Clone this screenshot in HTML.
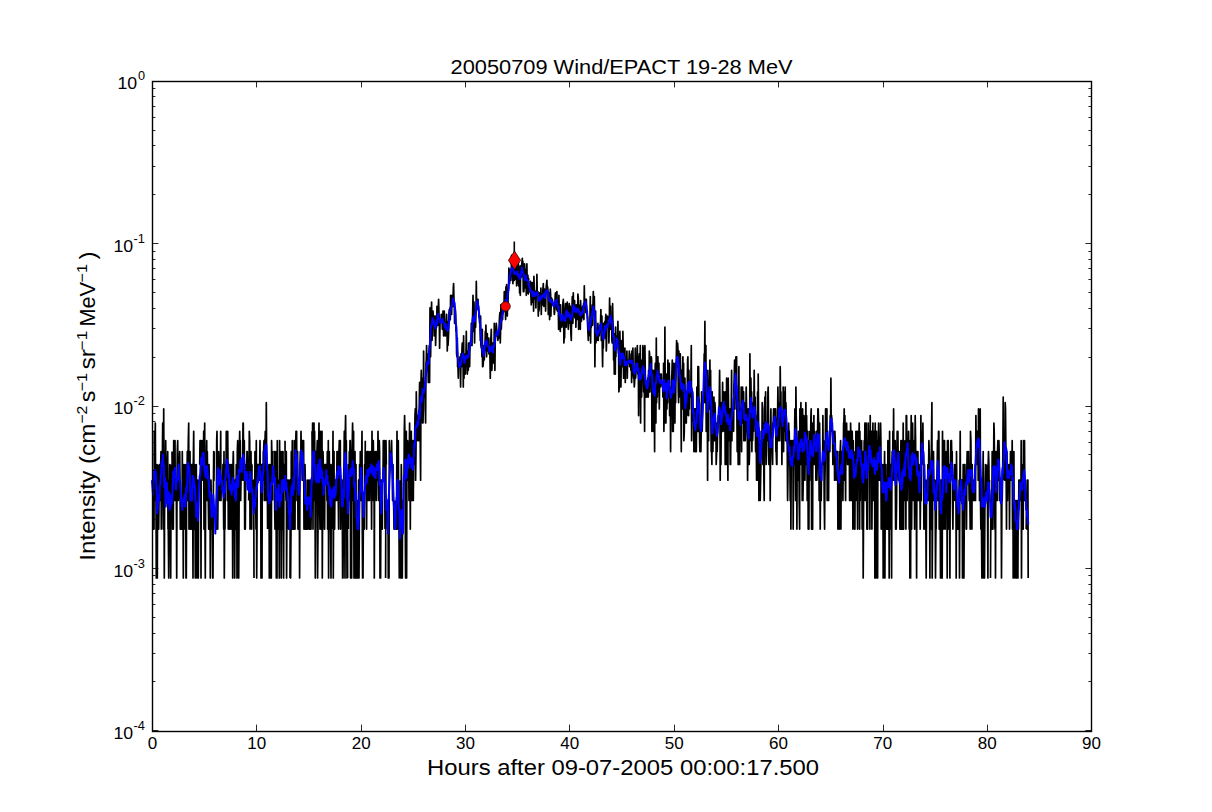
<!DOCTYPE html><html><head><meta charset="utf-8"><style>html,body{margin:0;padding:0;background:#fff;width:1212px;height:812px;overflow:hidden}</style></head><body><svg width="1212" height="812" viewBox="0 0 1212 812" style="position:absolute;left:0;top:0"><rect width="1212" height="812" fill="#ffffff"/><path d="M152.0 480.2L152.3 480.2L152.7 480.2L153.0 480.2L153.3 529.1L153.7 529.1L154.0 529.1L154.3 431.3L154.7 451.6L155.0 480.2L155.3 423.0L155.7 500.5L156.0 500.5L156.3 578.0L156.7 529.1L157.0 464.5L157.3 578.0L157.7 464.5M158.3 464.5L158.7 529.1L159.0 500.5L159.3 500.5L159.7 464.5L160.0 500.5L160.3 500.5L160.7 464.5L161.0 451.6L161.3 529.1L161.7 451.6L162.0 464.5L162.3 464.5L162.7 423.0L163.0 480.2L163.3 529.1L163.7 408.9L164.0 480.2L164.3 578.0L164.7 480.2M165.3 500.5L165.7 440.7L166.0 500.5L166.3 480.2M167.0 500.5L167.3 464.5L167.7 451.6L168.0 529.1L168.3 529.1L168.7 578.0L169.0 480.2L169.3 529.1L169.7 464.5L170.0 480.2L170.3 529.1L170.7 578.0L171.0 500.5L171.3 464.5M172.0 451.6L172.3 480.2L172.7 529.1L173.0 500.5L173.3 529.1L173.7 440.7L174.0 440.7L174.3 464.5L174.7 500.5L175.0 440.7L175.3 500.5L175.7 500.5L176.0 500.5L176.3 480.2L176.7 578.0L177.0 480.2L177.3 451.6L177.7 440.7L178.0 480.2L178.3 500.5L178.7 480.2L179.0 464.5L179.3 464.5L179.7 451.6L180.0 480.2L180.3 529.1L180.7 500.5L181.0 500.5L181.3 529.1L181.7 529.1L182.0 529.1L182.3 451.6L182.7 529.1L183.0 500.5L183.3 578.0L183.7 464.5L184.0 500.5L184.3 529.1L184.7 500.5L185.0 464.5L185.3 500.5L185.7 480.2L186.0 578.0L186.3 578.0L186.7 464.5L187.0 480.2L187.3 451.6L187.7 500.5L188.0 464.5L188.3 440.7L188.7 423.0L189.0 529.1L189.3 480.2L189.7 500.5L190.0 451.6L190.3 529.1L190.7 529.1L191.0 500.5L191.3 529.1L191.7 464.5L192.0 500.5L192.3 464.5L192.7 500.5L193.0 578.0L193.3 464.5L193.7 431.3L194.0 480.2L194.3 529.1L194.7 464.5L195.0 500.5L195.3 578.0L195.7 529.1L196.0 500.5L196.3 464.5L196.7 529.1L197.0 578.0L197.3 529.1L197.7 480.2L198.0 480.2L198.3 578.0L198.7 480.2M199.3 464.5L199.7 464.5L200.0 440.7L200.3 464.5L200.7 440.7L201.0 578.0L201.3 451.6L201.7 480.2L202.0 440.7L202.3 440.7L202.7 464.5L203.0 451.6L203.3 480.2L203.7 431.3L204.0 529.1L204.3 451.6L204.7 423.0L205.0 529.1L205.3 578.0L205.7 480.2L206.0 464.5L206.3 464.5L206.7 440.7L207.0 500.5L207.3 451.6L207.7 480.2L208.0 464.5L208.3 500.5L208.7 529.1L209.0 464.5L209.3 480.2L209.7 500.5L210.0 480.2L210.3 578.0L210.7 500.5L211.0 480.2L211.3 500.5L211.7 529.1L212.0 529.1L212.3 500.5L212.7 578.0L213.0 578.0L213.3 500.5L213.7 451.6L214.0 480.2L214.3 451.6M216.0 529.1L216.3 529.1L216.7 440.7L217.0 431.3L217.3 480.2L217.7 529.1L218.0 500.5L218.3 480.2L218.7 451.6L219.0 480.2L219.3 480.2L219.7 500.5L220.0 480.2L220.3 480.2L220.7 431.3L221.0 500.5L221.3 480.2L221.7 480.2L222.0 480.2M222.7 480.2L223.0 464.5L223.3 480.2L223.7 529.1L224.0 451.6L224.3 578.0L224.7 500.5L225.0 529.1L225.3 464.5L225.7 480.2L226.0 480.2L226.3 431.3L226.7 451.6L227.0 464.5L227.3 500.5L227.7 431.3L228.0 464.5L228.3 529.1L228.7 480.2L229.0 480.2L229.3 464.5L229.7 529.1L230.0 464.5L230.3 500.5L230.7 500.5L231.0 529.1L231.3 464.5L231.7 480.2L232.0 500.5L232.3 464.5L232.7 578.0L233.0 464.5L233.3 451.6L233.7 480.2L234.0 480.2L234.3 480.2L234.7 578.0L235.0 500.5L235.3 480.2L235.7 529.1L236.0 500.5L236.3 464.5L236.7 464.5L237.0 578.0L237.3 451.6L237.7 440.7L238.0 480.2L238.3 500.5L238.7 578.0L239.0 529.1L239.3 451.6L239.7 431.3L240.0 451.6L240.3 440.7L240.7 500.5L241.0 480.2L241.3 464.5L241.7 480.2L242.0 480.2L242.3 480.2L242.7 464.5L243.0 423.0L243.3 423.0L243.7 480.2L244.0 480.2L244.3 440.7L244.7 529.1L245.0 480.2L245.3 529.1L245.7 480.2L246.0 464.5L246.3 480.2L246.7 464.5L247.0 451.6L247.3 451.6L247.7 480.2M248.7 500.5L249.0 480.2L249.3 431.3L249.7 440.7L250.0 529.1L250.3 500.5L250.7 500.5L251.0 451.6L251.3 500.5L251.7 529.1L252.0 464.5L252.3 464.5M253.0 480.2L253.3 500.5L253.7 480.2L254.0 578.0M254.7 500.5L255.0 451.6L255.3 500.5L255.7 500.5L256.0 529.1L256.3 440.7L256.7 578.0L257.0 529.1L257.3 464.5L257.7 464.5L258.0 480.2L258.3 464.5L258.7 480.2L259.0 464.5L259.3 480.2L259.7 464.5L260.0 440.7L260.3 480.2L260.7 464.5L261.0 578.0L261.3 464.5L261.6 529.1L262.0 578.0L262.3 464.5L262.6 480.2L263.0 480.2L263.3 451.6L263.6 451.6L264.0 440.7L264.3 500.5L264.6 480.2L265.0 440.7L265.3 431.3L265.6 431.3L266.0 500.5L266.3 402.7L266.6 451.6L267.0 464.5L267.3 480.2L267.6 529.1M268.3 464.5L268.6 500.5L269.0 464.5L269.3 578.0L269.6 464.5L270.0 500.5L270.3 578.0L270.6 500.5L271.0 464.5L271.3 578.0L271.6 440.7L272.0 464.5L272.3 451.6L272.6 500.5M273.3 451.6L273.6 451.6L274.0 451.6L274.3 451.6L274.6 500.5L275.0 529.1L275.3 529.1L275.6 529.1L276.0 451.6L276.3 578.0L276.6 480.2L277.0 578.0L277.3 440.7L277.6 500.5L278.0 480.2L278.3 529.1L278.6 500.5L279.0 500.5L279.3 578.0L279.6 440.7L280.0 529.1L280.3 529.1L280.6 529.1L281.0 451.6L281.3 578.0L281.6 480.2L282.0 529.1L282.3 464.5L282.6 451.6L283.0 451.6L283.3 529.1L283.6 578.0L284.0 464.5L284.3 464.5M285.0 440.7L285.3 480.2L285.6 480.2L286.0 500.5L286.3 451.6L286.6 578.0L287.0 500.5L287.3 500.5L287.6 480.2L288.0 480.2L288.3 500.5L288.6 529.1L289.0 480.2L289.3 529.1M290.0 578.0L290.3 480.2L290.6 578.0L291.0 529.1L291.3 451.6L291.6 480.2L292.0 500.5L292.3 440.7L292.6 529.1L293.0 500.5L293.3 500.5L293.6 529.1L294.0 529.1L294.3 440.7L294.6 440.7L295.0 529.1L295.3 451.6L295.6 451.6L296.0 431.3L296.3 464.5L296.6 431.3L297.0 500.5L297.3 480.2L297.6 451.6L298.0 529.1L298.3 480.2L298.6 529.1L299.0 480.2L299.3 500.5L299.6 578.0L300.0 464.5L300.3 451.6L300.6 480.2L301.0 431.3L301.3 451.6L301.6 440.7L302.0 451.6L302.3 440.7L302.6 480.2L303.0 480.2L303.3 464.5L303.6 440.7L304.0 529.1L304.3 529.1L304.6 500.5L305.0 464.5L305.3 480.2L305.6 529.1L306.0 529.1L306.3 500.5L306.6 500.5L307.0 529.1L307.3 480.2L307.6 500.5L308.0 529.1L308.3 500.5L308.6 480.2L309.0 480.2L309.3 500.5L309.6 529.1L310.0 529.1L310.3 480.2L310.6 500.5L311.0 529.1L311.3 500.5M312.0 431.3L312.3 480.2L312.6 423.0L313.0 529.1L313.3 440.7L313.6 451.6L314.0 423.0L314.3 500.5L314.6 431.3L315.0 480.2L315.3 578.0L315.6 529.1L316.0 451.6L316.3 480.2L316.6 480.2L317.0 451.6L317.3 440.7L317.6 578.0L318.0 529.1L318.3 464.5L318.6 451.6L319.0 423.0L319.3 500.5L319.6 500.5L320.0 529.1L320.3 440.7L320.6 431.3L321.0 464.5L321.3 529.1L321.6 500.5L322.0 431.3L322.3 578.0L322.6 500.5L323.0 451.6L323.3 464.5L323.6 500.5L324.0 480.2L324.3 529.1L324.6 529.1L325.0 464.5L325.3 480.2L325.6 464.5L326.0 464.5L326.3 480.2L326.6 464.5L327.0 500.5L327.3 451.6L327.6 529.1L328.0 529.1L328.3 440.7L328.6 578.0L329.0 480.2L329.3 451.6L329.6 529.1L330.0 529.1L330.3 464.5L330.6 529.1L331.0 578.0L331.3 464.5L331.6 464.5M332.3 529.1L332.6 500.5L333.0 431.3L333.3 578.0L333.6 500.5L334.0 451.6L334.3 529.1L334.6 529.1L335.0 480.2L335.3 500.5L335.6 480.2L336.0 480.2L336.3 480.2L336.6 500.5L337.0 451.6L337.3 480.2L337.6 464.5L338.0 451.6L338.3 500.5L338.6 529.1L339.0 451.6L339.3 440.7L339.6 480.2L340.0 480.2L340.3 440.7L340.6 529.1L341.0 480.2L341.3 480.2L341.6 500.5L342.0 480.2L342.3 500.5L342.6 578.0L343.0 578.0L343.3 529.1L343.6 480.2L344.0 464.5L344.3 431.3L344.6 500.5L345.0 578.0L345.3 431.3L345.6 415.6L346.0 464.5L346.3 440.7L346.6 480.2L347.0 578.0L347.3 480.2L347.6 578.0M348.3 529.1L348.6 464.5L349.0 500.5L349.3 451.6L349.6 464.5L350.0 440.7L350.3 440.7L350.6 578.0L351.0 500.5L351.3 480.2L351.6 578.0L352.0 451.6L352.3 440.7L352.6 423.0L353.0 480.2L353.3 500.5L353.6 431.3L354.0 578.0L354.3 578.0L354.6 464.5L355.0 451.6L355.3 578.0L355.6 480.2L356.0 464.5L356.3 578.0L356.6 529.1L357.0 500.5L357.3 529.1L357.6 578.0L358.0 578.0L358.3 529.1L358.6 480.2L359.0 578.0L359.3 529.1L359.6 464.5L360.0 500.5L360.3 451.6L360.6 500.5L361.0 500.5L361.3 464.5L361.6 464.5L362.0 431.3L362.3 529.1L362.6 578.0L363.0 578.0L363.3 529.1L363.6 500.5L364.0 500.5L364.3 529.1L364.6 464.5L365.0 480.2L365.3 440.7M366.0 451.6L366.3 480.2L366.6 529.1L367.0 451.6L367.3 500.5L367.6 451.6L368.0 480.2L368.3 451.6L368.6 500.5L369.0 480.2L369.3 464.5L369.6 500.5L370.0 451.6L370.3 451.6L370.6 464.5L371.0 464.5L371.3 480.2L371.6 529.1L372.0 431.3L372.3 480.2L372.6 500.5L373.0 480.2L373.3 440.7L373.6 464.5L374.0 451.6L374.3 578.0L374.6 480.2L375.0 480.2L375.3 464.5L375.6 451.6L376.0 480.2L376.3 500.5L376.6 451.6L377.0 464.5L377.3 480.2L377.6 480.2L378.0 431.3L378.3 480.2L378.6 500.5L379.0 451.6L379.3 440.7L379.6 451.6L380.0 578.0L380.3 529.1L380.6 578.0L381.0 480.2L381.3 480.2L381.6 480.2L382.0 529.1L382.3 529.1L382.6 480.2L383.0 480.2L383.3 440.7L383.6 464.5L384.0 480.2L384.3 464.5L384.6 440.7L385.0 529.1M385.6 578.0L386.0 440.7L386.3 464.5M387.0 500.5L387.3 500.5L387.6 529.1L388.0 500.5L388.3 578.0L388.6 529.1L389.0 578.0L389.3 440.7L389.6 464.5L390.0 451.6L390.3 464.5L390.6 451.6L391.0 464.5L391.3 451.6L391.6 440.7L392.0 464.5L392.3 480.2L392.6 500.5L393.0 464.5L393.3 500.5L393.6 500.5L394.0 529.1L394.3 529.1L394.6 529.1L395.0 529.1L395.3 500.5M396.0 500.5L396.3 529.1L396.6 500.5L397.0 431.3L397.3 529.1L397.6 480.2L398.0 500.5L398.3 440.7L398.6 500.5L399.0 529.1L399.3 578.0L399.6 578.0M400.3 480.2L400.6 578.0L401.0 529.1L401.3 464.5L401.6 480.2L402.0 578.0L402.3 578.0L402.6 500.5L403.0 529.1M404.0 480.2L404.3 431.3L404.6 415.6L405.0 440.7L405.3 529.1L405.6 578.0L406.0 500.5L406.3 431.3L406.6 578.0L407.0 440.7L407.3 480.2L407.6 440.7L408.0 451.6L408.3 480.2L408.6 451.6L409.0 500.5L409.3 451.6L409.6 423.0L410.0 464.5L410.3 529.1L410.6 451.6L411.0 464.5L411.3 431.3L411.6 500.5L412.0 500.5L412.3 440.7L412.6 480.2L413.0 440.7L413.3 500.5L413.6 464.5L414.0 464.5L414.3 451.6L414.6 440.7L415.0 415.6L415.3 408.9L415.6 480.2L416.0 451.6L416.3 391.8L416.6 415.6L417.0 440.7L417.3 431.3L417.6 415.6L418.0 423.0L418.3 423.0L418.6 440.7L419.0 415.6L419.3 402.7L419.6 382.4L420.0 397.1L420.3 451.6L420.6 480.2L421.0 382.4L421.3 370.3L421.6 391.8L422.0 378.2L422.3 402.7L422.6 423.0L423.0 423.0L423.3 408.9L423.6 351.0L424.0 397.1L424.3 382.4L424.6 387.0L425.0 382.4L425.3 408.9L425.6 423.0L426.0 363.3L426.3 360.0L426.6 345.5L427.0 363.3L427.3 370.3L427.6 353.8L428.0 363.3L428.3 382.4L428.6 363.3L429.0 356.8L429.3 345.5L429.6 382.4L430.0 307.9L430.3 327.2L430.6 356.8L431.0 333.5L431.3 311.1L431.6 302.1L432.0 340.5L432.3 335.8L432.6 312.7L433.0 311.1L433.3 317.8L433.6 323.3L434.0 316.1L434.3 335.8L434.6 323.3L435.0 327.2L435.3 316.1L435.6 345.5L436.0 329.3L436.3 327.2L436.6 327.2L437.0 306.4L437.3 317.8L437.6 323.3L438.0 325.2L438.3 307.9L438.6 299.3L439.0 314.4L439.3 321.4L439.6 348.2L440.0 323.3L440.3 321.4L440.6 321.4L441.0 321.4L441.3 314.4L441.6 317.8L442.0 316.1L442.3 329.3L442.6 323.3L443.0 311.1L443.3 317.8L443.6 335.8L444.0 331.4L444.3 311.1L444.6 323.3L445.0 335.8L445.3 327.2L445.6 335.8L446.0 323.3L446.3 323.3L446.6 314.4L447.0 327.2L447.3 351.0L447.6 321.4L448.0 345.5L448.3 340.5L448.6 333.5L449.0 312.7L449.3 309.5L449.6 311.1L450.0 307.9L450.3 319.6L450.6 295.3L451.0 311.1L451.3 312.7L451.6 314.4L452.0 295.3L452.3 304.9L452.6 306.4L453.0 306.4L453.3 288.0L453.6 283.6L454.0 300.7L454.3 304.9L454.6 323.3L455.0 307.9L455.3 309.5L455.6 314.4L456.0 331.4L456.3 325.2L456.6 353.8L457.0 356.8L457.3 338.1L457.6 366.7L458.0 366.7L458.3 378.2L458.6 360.0L459.0 366.7L459.3 366.7L459.6 363.3L460.0 356.8L460.3 366.7L460.6 387.0L461.0 353.8L461.3 363.3L461.6 366.7L462.0 348.2L462.3 343.0L462.6 343.0L463.0 356.8L463.3 387.0L463.6 335.8L464.0 378.2L464.3 353.8L464.6 374.1L465.0 356.8L465.3 374.1L465.6 356.8L466.0 353.8L466.3 331.4L466.6 360.0L467.0 360.0L467.3 374.1L467.6 366.7L468.0 351.0L468.3 370.3L468.6 343.0L469.0 343.0L469.3 343.0L469.6 366.7L470.0 345.5L470.3 345.5L470.6 340.5L471.0 345.5L471.3 323.3L471.6 345.5L472.0 345.5L472.3 319.6L472.6 316.1L473.0 295.3L473.3 314.4L473.6 331.4L474.0 302.1L474.3 325.2L474.6 343.0L475.0 316.1L475.3 319.6L475.6 327.2L476.0 311.1L476.3 281.4L476.6 303.5L477.0 304.9L477.3 300.7L477.6 309.5L478.0 299.3L478.3 304.9L478.6 306.4L479.0 317.8L479.3 316.1L479.6 323.3L480.0 323.3L480.3 340.5L480.6 316.1L480.9 345.5L481.3 348.2L481.6 343.0L481.9 356.8L482.3 329.3L482.6 366.7L482.9 366.7L483.3 363.3L483.6 348.2L483.9 345.5L484.3 360.0L484.6 348.2L484.9 351.0L485.3 331.4L485.6 343.0L485.9 325.2L486.3 340.5L486.6 356.8L486.9 348.2L487.3 333.5L487.6 351.0L487.9 348.2L488.3 345.5L488.6 338.1L488.9 353.8L489.3 353.8L489.6 348.2L489.9 353.8L490.3 378.2L490.6 338.1L490.9 338.1L491.3 329.3L491.6 353.8L491.9 370.3L492.3 356.8L492.6 343.0L492.9 348.2L493.3 343.0L493.6 348.2L493.9 363.3L494.3 323.3L494.6 343.0L494.9 370.3L495.3 333.5L495.6 335.8L495.9 333.5L496.3 323.3L496.6 327.2L496.9 333.5L497.3 333.5L497.6 331.4L497.9 340.5L498.3 335.8L498.6 338.1L498.9 338.1L499.3 321.4L499.6 316.1L499.9 312.7L500.3 343.0L500.6 329.3L500.9 304.9L501.3 329.3L501.6 321.4L501.9 312.7L502.3 311.1L502.6 319.6L502.9 307.9L503.3 312.7L503.6 304.9L503.9 311.1L504.3 291.6L504.6 302.1L504.9 309.5L505.3 304.9L505.6 319.6L505.9 286.9L506.3 309.5L506.6 284.7L506.9 296.6L507.3 316.1L507.6 302.1L507.9 304.9L508.3 291.6L508.6 284.7L508.9 268.0L509.3 274.4L509.6 283.6L509.9 269.8L510.3 275.4L510.6 272.5L510.9 280.4L511.3 271.6L511.6 255.3L511.9 268.9L512.3 266.3L512.6 256.1L512.9 283.6L513.3 274.4L513.6 259.8L513.9 271.6L514.3 280.4L514.6 275.4L514.9 279.4L515.3 268.9L515.6 273.5L515.9 272.5L516.3 259.8L516.6 285.8L516.9 269.8L517.3 283.6L517.6 268.9L517.9 273.5L518.3 260.6L518.6 285.8L518.9 285.8L519.3 266.3L519.6 292.8L519.9 273.5L520.3 295.3L520.6 274.4L520.9 265.5L521.3 277.3L521.6 268.0L521.9 263.0L522.3 258.3L522.6 275.4L522.9 261.4L523.3 291.6L523.6 274.4L523.9 291.6L524.3 283.6L524.6 263.8L524.9 268.9L525.3 283.6L525.6 288.0L525.9 269.8L526.3 295.3L526.6 277.3L526.9 263.8L527.3 292.8L527.6 277.3L527.9 275.4L528.3 294.1L528.6 278.3L528.9 290.4L529.3 289.2L529.6 288.0L529.9 285.8L530.3 292.8L530.6 281.4L530.9 295.3L531.3 304.9L531.6 292.8L531.9 292.8L532.3 282.5L532.6 302.1L532.9 299.3L533.3 288.0L533.6 311.1L533.9 276.3L534.3 290.4L534.6 291.6L534.9 298.0L535.3 299.3L535.6 298.0L535.9 307.9L536.3 290.4L536.6 291.6L536.9 274.4L537.3 294.1L537.6 294.1L537.9 291.6L538.3 316.1L538.6 298.0L538.9 311.1L539.3 306.4L539.6 292.8L539.9 292.8L540.3 296.6L540.6 299.3L540.9 288.0L541.3 314.4L541.6 294.1L541.9 295.3L542.3 298.0L542.6 304.9L542.9 289.2L543.3 283.6L543.6 296.6L543.9 306.4L544.3 300.7L544.6 289.2L544.9 294.1L545.3 291.6L545.6 311.1L545.9 296.6L546.3 285.8L546.6 283.6L546.9 280.4L547.3 291.6L547.6 286.9L547.9 290.4L548.3 314.4L548.6 298.0L548.9 292.8L549.3 303.5L549.6 319.6L549.9 299.3L550.3 289.2L550.6 294.1L550.9 316.1L551.3 299.3L551.6 298.0L551.9 304.9L552.3 299.3L552.6 300.7L552.9 304.9L553.3 304.9L553.6 306.4L553.9 304.9L554.3 314.4L554.6 312.7L554.9 303.5L555.3 294.1L555.6 292.8L555.9 300.7L556.3 302.1L556.6 309.5L556.9 291.6L557.3 311.1L557.6 300.7L557.9 309.5L558.3 306.4L558.6 329.3L558.9 295.3L559.3 314.4L559.6 317.8L559.9 317.8L560.3 331.4L560.6 304.9L560.9 319.6L561.3 321.4L561.6 323.3L561.9 327.2L562.3 316.1L562.6 325.2L562.9 303.5L563.3 299.3L563.6 306.4L563.9 343.0L564.3 335.8L564.6 338.1L564.9 319.6L565.3 309.5L565.6 303.5L565.9 304.9L566.3 327.2L566.6 314.4L566.9 307.9L567.3 302.1L567.6 317.8L567.9 314.4L568.3 329.3L568.6 323.3L568.9 309.5L569.3 303.5L569.6 312.7L569.9 323.3L570.3 306.4L570.6 323.3L570.9 333.5L571.3 340.5L571.6 312.7L571.9 312.7L572.3 296.6L572.6 304.9L572.9 323.3L573.3 292.8L573.6 316.1L573.9 306.4L574.3 306.4L574.6 300.7L574.9 317.8L575.3 312.7L575.6 306.4L575.9 327.2L576.3 304.9L576.6 307.9L576.9 319.6L577.3 304.9L577.6 317.8L577.9 294.1L578.3 298.0L578.6 329.3L578.9 304.9L579.3 323.3L579.6 314.4L579.9 311.1L580.3 329.3L580.6 300.7L580.9 309.5L581.3 321.4L581.6 319.6L581.9 309.5L582.3 317.8L582.6 306.4L582.9 316.1L583.3 309.5L583.6 303.5L583.9 319.6L584.3 285.8L584.6 306.4L584.9 304.9L585.3 299.3L585.6 299.3L585.9 312.7L586.3 299.3L586.6 307.9L586.9 311.1L587.3 311.1L587.6 325.2L587.9 331.4L588.3 340.5L588.6 325.2L588.9 335.8L589.3 331.4L589.6 331.4L589.9 323.3L590.3 296.6L590.6 343.0L590.9 319.6L591.3 327.2L591.6 316.1L591.9 312.7L592.3 304.9L592.6 325.2L592.9 307.9L593.3 291.6L593.6 307.9L593.9 311.1L594.3 296.6L594.6 316.1L594.9 366.7L595.3 316.1L595.6 311.1L595.9 343.0L596.3 338.1L596.6 333.5L596.9 340.5L597.3 331.4L597.6 338.1L597.9 323.3L598.3 340.5L598.6 327.2L598.9 331.4L599.3 335.8L599.6 327.2L599.9 327.2L600.3 325.2L600.6 321.4L600.9 309.5L601.3 340.5L601.6 325.2L601.9 316.1L602.3 348.2L602.6 366.7L602.9 338.1L603.3 348.2L603.6 323.3L603.9 329.3L604.3 333.5L604.6 335.8L604.9 321.4L605.3 338.1L605.6 317.8L605.9 314.4L606.3 351.0L606.6 343.0L606.9 319.6L607.3 325.2L607.6 316.1L607.9 319.6L608.3 325.2L608.6 323.3L608.9 343.0L609.3 323.3L609.6 298.0L609.9 329.3L610.3 309.5L610.6 306.4L610.9 329.3L611.3 316.1L611.6 321.4L611.9 340.5L612.3 343.0L612.6 303.5L612.9 321.4L613.3 329.3L613.6 360.0L613.9 343.0L614.3 374.1L614.6 348.2L614.9 333.5L615.3 374.1L615.6 327.2L615.9 356.8L616.3 335.8L616.6 345.5L616.9 343.0L617.3 345.5L617.6 338.1L617.9 321.4L618.3 345.5L618.6 351.0L618.9 391.8L619.3 387.0L619.6 374.1L619.9 331.4L620.3 360.0L620.6 351.0L620.9 387.0L621.3 356.8L621.6 340.5L621.9 351.0L622.3 366.7L622.6 363.3L622.9 331.4L623.3 353.8L623.6 378.2L623.9 353.8L624.3 370.3L624.6 363.3L624.9 348.2L625.3 382.4L625.6 363.3L625.9 366.7L626.3 360.0L626.6 366.7L626.9 351.0L627.3 378.2L627.6 360.0L627.9 363.3L628.3 360.0L628.6 363.3L628.9 363.3L629.3 351.0L629.6 366.7L629.9 360.0L630.3 363.3L630.6 360.0L630.9 370.3L631.3 353.8L631.6 382.4L631.9 351.0L632.3 356.8L632.6 366.7L632.9 348.2L633.3 374.1L633.6 378.2L633.9 374.1L634.3 387.0L634.6 382.4L634.9 374.1L635.3 348.2L635.6 378.2L635.9 374.1L636.3 360.0L636.6 370.3L636.9 366.7L637.3 345.5L637.6 370.3L637.9 374.1L638.3 356.8L638.6 415.6L638.9 387.0L639.3 353.8L639.6 397.1L639.9 391.8L640.3 345.5L640.6 423.0L640.9 363.3L641.3 382.4L641.6 397.1L641.9 360.0L642.3 370.3L642.6 370.3L642.9 345.5L643.3 374.1L643.6 391.8L643.9 348.2L644.3 382.4L644.6 431.3L644.9 345.5L645.3 374.1L645.6 397.1L645.9 391.8L646.3 382.4L646.6 387.0L646.9 397.1L647.3 387.0L647.6 387.0L647.9 378.2L648.3 397.1L648.6 370.3L648.9 391.8L649.3 351.0L649.6 353.8L649.9 391.8L650.3 356.8L650.6 366.7L650.9 387.0L651.3 356.8L651.6 360.0L651.9 431.3L652.3 382.4L652.6 370.3L652.9 370.3L653.3 431.3L653.6 408.9L653.9 402.7L654.3 370.3L654.6 451.6L654.9 378.2L655.3 363.3L655.6 402.7L655.9 423.0L656.3 338.1L656.6 402.7L656.9 370.3L657.3 397.1L657.6 356.8L657.9 356.8L658.3 391.8L658.6 378.2L658.9 363.3L659.3 408.9L659.6 382.4L659.9 382.4L660.3 387.0L660.6 374.1L660.9 378.2L661.3 374.1L661.6 382.4L661.9 382.4L662.3 387.0L662.6 382.4L662.9 397.1L663.3 397.1L663.6 363.3L663.9 431.3L664.3 397.1L664.6 391.8L664.9 327.2L665.3 402.7L665.6 423.0L665.9 423.0L666.3 387.0L666.6 374.1L666.9 408.9L667.3 382.4L667.6 402.7L667.9 360.0L668.3 397.1L668.6 382.4L668.9 366.7L669.3 363.3L669.6 415.6L669.9 387.0L670.3 391.8L670.6 451.6L670.9 402.7L671.3 408.9L671.6 378.2L671.9 374.1L672.3 360.0L672.6 431.3L672.9 374.1L673.3 431.3L673.6 363.3L673.9 366.7L674.3 387.0L674.6 402.7L674.9 423.0L675.3 363.3L675.6 402.7L675.9 378.2L676.3 360.0L676.6 340.5L676.9 366.7L677.3 343.0L677.6 343.0L677.9 348.2L678.3 391.8L678.6 402.7L678.9 351.0L679.3 397.1L679.6 363.3L679.9 378.2L680.3 353.8L680.6 387.0L680.9 391.8L681.3 451.6L681.6 370.3L681.9 408.9L682.3 408.9L682.6 370.3L682.9 356.8L683.3 391.8L683.6 363.3L683.9 440.7L684.3 431.3L684.6 391.8L684.9 378.2L685.3 402.7L685.6 397.1L685.9 423.0L686.3 423.0L686.6 402.7L686.9 415.6L687.3 387.0L687.6 360.0L687.9 356.8L688.3 391.8L688.6 415.6L688.9 370.3L689.3 408.9L689.6 387.0L689.9 397.1L690.3 387.0L690.6 391.8L690.9 382.4L691.3 345.5L691.6 440.7L691.9 408.9L692.3 391.8L692.6 391.8L692.9 402.7L693.3 415.6L693.6 423.0L693.9 451.6L694.3 408.9L694.6 440.7L694.9 423.0L695.3 451.6L695.6 408.9L695.9 423.0L696.3 451.6L696.6 423.0L696.9 387.0L697.3 431.3L697.6 431.3L697.9 366.7L698.3 431.3L698.6 366.7L698.9 397.1L699.3 402.7L699.6 440.7L699.9 451.6L700.2 423.0L700.6 451.6L700.9 451.6L701.2 431.3L701.6 391.8L701.9 431.3L702.2 431.3L702.6 415.6L702.9 397.1L703.2 397.1L703.6 402.7L703.9 374.1L704.2 353.8L704.6 360.0L704.9 321.4L705.2 402.7L705.6 378.2L705.9 345.5L706.2 431.3L706.6 402.7L706.9 423.0L707.2 370.3L707.6 480.2L707.9 397.1L708.2 402.7L708.6 440.7L708.9 382.4L709.2 370.3L709.6 408.9L709.9 360.0L710.2 391.8L710.6 370.3L710.9 415.6L711.2 451.6L711.6 451.6L711.9 464.5L712.2 391.8L712.6 440.7L712.9 451.6L713.2 431.3L713.6 402.7L713.9 397.1L714.2 415.6L714.6 440.7L714.9 402.7L715.2 408.9L715.6 431.3L715.9 423.0L716.2 464.5L716.6 451.6L716.9 423.0L717.2 451.6L717.6 431.3L717.9 423.0L718.2 415.6L718.6 415.6L718.9 423.0L719.2 402.7L719.6 370.3L719.9 397.1L720.2 480.2L720.6 402.7L720.9 464.5L721.2 431.3L721.6 402.7L721.9 423.0L722.2 431.3L722.6 382.4L722.9 431.3L723.2 397.1L723.6 397.1L723.9 391.8L724.2 402.7L724.6 431.3L724.9 397.1L725.2 464.5L725.6 391.8L725.9 408.9L726.2 464.5L726.6 378.2L726.9 431.3L727.2 440.7L727.6 440.7L727.9 480.2L728.2 378.2L728.6 408.9L728.9 415.6L729.2 440.7L729.6 423.0L729.9 408.9L730.2 464.5L730.6 464.5L730.9 431.3L731.2 415.6L731.6 370.3L731.9 440.7L732.2 408.9L732.6 408.9L732.9 423.0L733.2 423.0L733.6 431.3L733.9 387.0L734.2 378.2L734.6 360.0L734.9 408.9L735.2 387.0L735.6 366.7L735.9 356.8L736.2 397.1L736.6 356.8L736.9 415.6L737.2 451.6L737.6 402.7L737.9 415.6L738.2 464.5L738.6 408.9L738.9 366.7L739.2 440.7L739.6 464.5L739.9 431.3L740.2 408.9L740.6 423.0L740.9 423.0L741.2 387.0L741.6 451.6L741.9 391.8L742.2 391.8L742.6 387.0L742.9 423.0L743.2 402.7L743.6 391.8L743.9 440.7L744.2 402.7L744.6 440.7L744.9 423.0L745.2 440.7L745.6 431.3L745.9 408.9L746.2 387.0L746.6 408.9L746.9 423.0L747.2 408.9L747.6 480.2L747.9 431.3L748.2 451.6L748.6 408.9L748.9 440.7L749.2 464.5L749.6 451.6L749.9 353.8L750.2 408.9L750.6 440.7L750.9 378.2L751.2 402.7L751.6 391.8L751.9 451.6L752.2 402.7L752.6 440.7L752.9 431.3L753.2 408.9L753.6 431.3L753.9 402.7L754.2 370.3L754.6 415.6L754.9 415.6L755.2 397.1L755.6 451.6L755.9 431.3L756.2 431.3L756.6 480.2L756.9 415.6L757.2 451.6L757.6 391.8L757.9 480.2L758.2 374.1L758.6 423.0L758.9 500.5L759.2 440.7L759.6 480.2L759.9 431.3L760.2 500.5L760.6 480.2L760.9 464.5L761.2 440.7L761.6 440.7L761.9 451.6L762.2 402.7L762.6 408.9L762.9 464.5L763.2 423.0L763.6 431.3L763.9 480.2L764.2 500.5L764.6 408.9L764.9 397.1L765.2 431.3L765.6 391.8L765.9 431.3L766.2 464.5L766.6 451.6L766.9 431.3L767.2 440.7L767.6 440.7L767.9 391.8L768.2 387.0L768.6 423.0L768.9 464.5L769.2 464.5L769.6 451.6L769.9 431.3L770.2 500.5L770.6 440.7L770.9 408.9L771.2 451.6L771.6 440.7L771.9 451.6L772.2 451.6L772.6 464.5L772.9 423.0L773.2 423.0L773.6 408.9L773.9 423.0L774.2 408.9L774.6 415.6L774.9 423.0L775.2 423.0L775.6 408.9L775.9 451.6L776.2 451.6L776.6 464.5L776.9 464.5L777.2 423.0L777.6 415.6L777.9 387.0L778.2 408.9L778.6 440.7L778.9 440.7L779.2 440.7L779.6 402.7L779.9 423.0L780.2 366.7L780.6 402.7L780.9 391.8L781.2 440.7L781.6 423.0L781.9 464.5L782.2 415.6L782.6 423.0L782.9 431.3L783.2 387.0L783.6 451.6L783.9 391.8L784.2 431.3L784.6 415.6L784.9 408.9L785.2 387.0L785.6 440.7L785.9 402.7L786.2 415.6L786.6 431.3L786.9 431.3L787.2 440.7L787.6 500.5L787.9 480.2L788.2 451.6L788.6 423.0L788.9 431.3L789.2 431.3L789.6 464.5L789.9 464.5L790.2 500.5L790.6 440.7L790.9 529.1L791.2 464.5L791.6 451.6L791.9 440.7L792.2 464.5L792.6 464.5L792.9 440.7L793.2 529.1L793.6 440.7L793.9 451.6L794.2 464.5L794.6 431.3L794.9 408.9L795.2 451.6L795.6 500.5L795.9 387.0L796.2 415.6L796.6 431.3L796.9 529.1L797.2 451.6L797.6 480.2L797.9 440.7L798.2 451.6L798.6 431.3L798.9 440.7L799.2 500.5L799.6 529.1L799.9 408.9L800.2 464.5L800.6 451.6L800.9 402.7L801.2 464.5L801.6 440.7L801.9 431.3L802.2 500.5L802.6 408.9L802.9 500.5L803.2 480.2L803.6 440.7L803.9 415.6L804.2 431.3L804.6 440.7L804.9 480.2L805.2 451.6L805.6 423.0L805.9 402.7L806.2 464.5L806.6 415.6L806.9 440.7L807.2 500.5L807.6 480.2L807.9 431.3L808.2 529.1L808.6 464.5L808.9 529.1L809.2 440.7L809.6 480.2L809.9 431.3L810.2 440.7L810.6 440.7L810.9 415.6L811.2 408.9L811.6 529.1L811.9 480.2L812.2 500.5L812.6 529.1L812.9 423.0L813.2 431.3L813.6 440.7L813.9 415.6L814.2 464.5L814.6 431.3L814.9 440.7L815.2 440.7L815.6 440.7L815.9 480.2L816.2 451.6L816.6 431.3L816.9 480.2L817.2 464.5L817.6 431.3L817.9 408.9L818.2 408.9L818.6 423.0L818.9 464.5L819.2 500.5L819.6 423.0L819.9 464.5L820.2 529.1L820.6 480.2L820.9 500.5L821.2 500.5L821.6 464.5L821.9 464.5L822.2 464.5L822.6 464.5L822.9 415.6L823.2 464.5L823.6 440.7L823.9 451.6L824.2 500.5L824.6 529.1L824.9 480.2L825.2 464.5L825.6 408.9L825.9 451.6L826.2 415.6L826.6 440.7L826.9 408.9L827.2 500.5L827.6 431.3L827.9 440.7L828.2 440.7L828.6 500.5L828.9 440.7L829.2 440.7L829.6 440.7L829.9 451.6L830.2 415.6L830.6 431.3L830.9 378.2L831.2 423.0L831.6 415.6L831.9 431.3L832.2 431.3L832.6 440.7L832.9 464.5L833.2 431.3L833.6 440.7L833.9 440.7L834.2 431.3L834.6 480.2L834.9 431.3L835.2 440.7L835.6 464.5L835.9 451.6L836.2 480.2L836.6 464.5L836.9 451.6L837.2 451.6L837.6 451.6L837.9 529.1L838.2 500.5L838.6 480.2L838.9 480.2L839.2 529.1L839.6 451.6L839.9 480.2L840.2 451.6L840.6 440.7L840.9 529.1L841.2 480.2L841.6 451.6L841.9 480.2L842.2 464.5L842.6 451.6L842.9 500.5L843.2 464.5L843.6 423.0L843.9 423.0L844.2 408.9L844.6 480.2L844.9 415.6L845.2 464.5L845.6 500.5L845.9 440.7L846.2 451.6L846.6 423.0L846.9 440.7L847.2 440.7L847.6 464.5L847.9 451.6L848.2 431.3L848.6 464.5L848.9 464.5L849.2 431.3L849.6 500.5L849.9 451.6L850.2 500.5L850.6 423.0L850.9 440.7L851.2 500.5L851.6 431.3L851.9 464.5L852.2 431.3L852.6 451.6L852.9 529.1L853.2 440.7L853.6 480.2L853.9 451.6L854.2 464.5L854.6 529.1L854.9 529.1L855.2 464.5L855.6 464.5L855.9 431.3L856.2 480.2L856.6 500.5L856.9 431.3L857.2 464.5L857.6 529.1L857.9 431.3L858.2 480.2L858.6 431.3L858.9 440.7L859.2 423.0L859.6 529.1L859.9 431.3L860.2 500.5L860.6 440.7L860.9 464.5L861.2 464.5L861.6 440.7L861.9 480.2L862.2 529.1L862.6 451.6L862.9 480.2L863.2 578.0L863.6 500.5L863.9 480.2L864.2 440.7L864.6 451.6L864.9 423.0L865.2 500.5L865.6 451.6L865.9 480.2L866.2 423.0L866.6 480.2L866.9 529.1L867.2 500.5L867.6 529.1L867.9 464.5L868.2 423.0L868.6 451.6L868.9 451.6L869.2 451.6L869.6 431.3L869.9 529.1L870.2 415.6L870.6 464.5L870.9 480.2L871.2 451.6L871.6 431.3L871.9 529.1L872.2 480.2L872.6 480.2L872.9 423.0L873.2 500.5L873.6 500.5L873.9 451.6L874.2 431.3L874.6 464.5L874.9 578.0L875.2 423.0L875.6 529.1L875.9 578.0L876.2 431.3L876.6 431.3L876.9 464.5L877.2 464.5L877.6 578.0L877.9 440.7L878.2 480.2L878.6 423.0L878.9 451.6L879.2 480.2L879.6 440.7L879.9 480.2L880.2 464.5L880.6 423.0L880.9 440.7L881.2 529.1L881.6 500.5L881.9 464.5L882.2 464.5L882.6 529.1L882.9 480.2L883.2 578.0L883.6 464.5L883.9 480.2L884.2 480.2L884.6 451.6L884.9 578.0L885.2 500.5L885.6 500.5L885.9 464.5L886.2 500.5L886.6 529.1L886.9 480.2L887.2 500.5L887.6 529.1L887.9 440.7L888.2 464.5L888.6 500.5L888.9 480.2L889.2 578.0L889.6 431.3L889.9 529.1L890.2 500.5L890.6 464.5L890.9 500.5L891.2 464.5L891.6 578.0L891.9 464.5L892.2 451.6L892.6 480.2L892.9 431.3L893.2 480.2L893.6 408.9L893.9 464.5L894.2 464.5L894.6 480.2L894.9 464.5L895.2 440.7L895.6 529.1L895.9 529.1L896.2 529.1L896.6 500.5L896.9 451.6L897.2 431.3L897.6 451.6L897.9 431.3L898.2 464.5L898.6 480.2L898.9 480.2L899.2 451.6L899.6 464.5L899.9 529.1L900.2 500.5L900.6 529.1L900.9 440.7L901.2 500.5L901.6 529.1L901.9 440.7L902.2 529.1L902.6 529.1L902.9 480.2L903.2 423.0L903.6 529.1L903.9 440.7L904.2 480.2L904.6 464.5L904.9 480.2L905.2 500.5L905.6 440.7L905.9 529.1L906.2 415.6L906.6 415.6L906.9 451.6L907.2 500.5L907.6 451.6L907.9 451.6L908.2 464.5L908.6 431.3L908.9 451.6L909.2 529.1L909.6 500.5L909.9 578.0L910.2 440.7L910.6 578.0L910.9 451.6L911.2 415.6L911.6 529.1L911.9 480.2L912.2 451.6L912.6 423.0L912.9 451.6L913.2 500.5L913.6 440.7L913.9 500.5L914.2 440.7L914.6 529.1L914.9 451.6L915.2 415.6L915.6 440.7L915.9 480.2L916.2 464.5L916.6 578.0L916.9 464.5L917.2 451.6L917.6 464.5L917.9 451.6L918.2 500.5L918.6 500.5L918.9 464.5L919.2 500.5L919.5 480.2L919.9 480.2L920.2 529.1L920.5 500.5L920.9 415.6L921.2 500.5L921.5 451.6L921.9 440.7L922.2 431.3L922.5 451.6L922.9 423.0L923.2 464.5L923.5 451.6L923.9 529.1L924.2 480.2L924.5 464.5L924.9 500.5L925.2 529.1L925.5 480.2L925.9 529.1L926.2 578.0L926.5 500.5L926.9 480.2L927.2 480.2L927.5 500.5L927.9 464.5L928.2 500.5L928.5 480.2L928.9 440.7L929.2 451.6L929.5 464.5L929.9 578.0L930.2 464.5L930.5 464.5L930.9 529.1L931.2 464.5L931.5 440.7L931.9 402.7L932.2 578.0L932.5 529.1L932.9 451.6L933.2 500.5L933.5 451.6L933.9 500.5L934.2 500.5L934.5 500.5L934.9 480.2L935.2 500.5L935.5 578.0L935.9 529.1L936.2 529.1L936.5 480.2L936.9 480.2L937.2 464.5L937.5 440.7L937.9 500.5L938.2 500.5L938.5 431.3L938.9 431.3L939.2 529.1L939.5 500.5L939.9 500.5L940.2 500.5L940.5 578.0L940.9 480.2L941.2 480.2L941.5 578.0L941.9 500.5L942.2 578.0L942.5 431.3L942.9 529.1L943.2 529.1L943.5 480.2L943.9 440.7L944.2 440.7L944.5 440.7L944.9 529.1L945.2 529.1L945.5 480.2L945.9 451.6L946.2 480.2L946.5 480.2L946.9 480.2L947.2 578.0L947.5 440.7L947.9 464.5L948.2 440.7L948.5 464.5L948.9 529.1L949.2 500.5L949.5 464.5L949.9 578.0L950.2 480.2L950.5 480.2L950.9 440.7L951.2 464.5L951.5 440.7L951.9 464.5L952.2 451.6L952.5 500.5L952.9 529.1L953.2 500.5L953.5 480.2L953.9 500.5L954.2 480.2L954.5 464.5L954.9 480.2L955.2 480.2L955.5 500.5L955.9 464.5L956.2 578.0L956.5 451.6L956.9 500.5L957.2 500.5L957.5 529.1L957.9 529.1L958.2 500.5L958.5 529.1L958.9 500.5L959.2 480.2L959.5 578.0L959.9 480.2L960.2 431.3L960.5 500.5L960.9 500.5L961.2 500.5L961.5 480.2L961.9 500.5L962.2 480.2L962.5 578.0L962.9 529.1L963.2 464.5L963.5 500.5L963.9 578.0L964.2 529.1L964.5 464.5L964.9 464.5L965.2 480.2L965.5 500.5L965.9 480.2L966.2 529.1L966.5 529.1L966.9 464.5L967.2 451.6L967.5 480.2L967.9 480.2L968.2 464.5L968.5 451.6L968.9 480.2L969.2 500.5L969.5 480.2L969.9 500.5L970.2 529.1L970.5 431.3L970.9 440.7L971.2 480.2L971.5 480.2L971.9 529.1L972.2 464.5L972.5 500.5L972.9 480.2L973.2 500.5L973.5 500.5L973.9 480.2L974.2 500.5L974.5 480.2L974.9 500.5L975.2 464.5L975.5 500.5L975.9 415.6L976.2 451.6L976.5 451.6L976.9 431.3L977.2 431.3L977.5 464.5L977.9 431.3L978.2 480.2L978.5 408.9L978.9 440.7L979.2 440.7L979.5 500.5L979.9 451.6L980.2 408.9L980.5 500.5L980.9 529.1L981.2 480.2L981.5 529.1L981.9 578.0L982.2 480.2L982.5 529.1L982.9 480.2L983.2 451.6L983.5 578.0L983.9 529.1L984.2 500.5L984.5 578.0L984.9 500.5L985.2 480.2L985.5 464.5L985.9 500.5L986.2 480.2M986.9 464.5L987.2 500.5L987.5 500.5L987.9 578.0L988.2 464.5L988.5 451.6L988.9 464.5L989.2 500.5L989.5 480.2L989.9 480.2M990.5 578.0L990.9 500.5L991.2 529.1L991.5 529.1L991.9 500.5L992.2 451.6L992.5 529.1L992.9 529.1L993.2 500.5L993.5 480.2L993.9 423.0L994.2 431.3L994.5 464.5L994.9 529.1L995.2 480.2L995.5 578.0L995.9 451.6L996.2 500.5L996.5 480.2L996.9 480.2L997.2 500.5L997.5 451.6L997.9 440.7L998.2 451.6L998.5 480.2L998.9 440.7L999.2 451.6L999.5 500.5L999.9 500.5L1000.2 500.5L1000.5 480.2L1000.9 500.5L1001.2 500.5L1001.5 578.0L1001.9 500.5L1002.2 500.5L1002.5 480.2L1002.9 451.6L1003.2 397.1L1003.5 464.5M1004.2 480.2L1004.5 451.6L1004.9 480.2L1005.2 402.7L1005.5 408.9L1005.9 451.6L1006.2 480.2L1006.5 529.1L1006.9 451.6L1007.2 464.5L1007.5 500.5L1007.9 464.5L1008.2 480.2L1008.5 480.2L1008.9 464.5L1009.2 464.5L1009.5 529.1L1009.9 464.5L1010.2 480.2L1010.5 451.6L1010.9 480.2L1011.2 464.5L1011.5 480.2L1011.9 464.5L1012.2 440.7L1012.5 529.1L1012.9 451.6L1013.2 578.0L1013.5 529.1L1013.9 451.6L1014.2 529.1L1014.5 500.5L1014.9 578.0L1015.2 500.5L1015.5 500.5L1015.9 529.1L1016.2 500.5L1016.5 578.0L1016.9 529.1L1017.2 500.5L1017.5 578.0L1017.9 578.0L1018.2 500.5L1018.5 529.1L1018.9 480.2L1019.2 500.5L1019.5 480.2L1019.9 500.5L1020.2 480.2L1020.5 500.5L1020.9 500.5L1021.2 440.7L1021.5 578.0L1021.9 464.5L1022.2 529.1L1022.5 500.5L1022.9 464.5L1023.2 529.1L1023.5 440.7L1023.9 451.6L1024.2 500.5L1024.5 440.7L1024.9 500.5L1025.2 480.2L1025.5 500.5M1026.2 529.1L1026.5 500.5L1026.9 529.1L1027.2 480.2L1027.5 500.5L1027.9 480.2L1028.2 578.0" fill="none" stroke="#000" stroke-width="1.7" stroke-linejoin="round" stroke-linecap="butt"/><path d="M152.0 480.2L152.3 484.8L152.7 489.6L153.0 494.8L153.3 484.8L153.7 480.2L154.0 480.2L154.3 470.0L154.7 471.9L155.0 470.0L155.3 471.9L155.7 471.9L156.0 478.0L156.3 489.6L156.7 487.1L157.0 513.4L157.3 506.6L157.7 509.9L158.0 503.5L158.3 500.5L158.7 500.5L159.0 494.8L159.3 500.5L159.7 487.1L160.0 484.8L160.3 484.8L160.7 478.0L161.0 473.9L161.3 473.9L161.7 462.7L162.0 461.0L162.3 466.3L162.7 457.7L163.0 454.6L163.3 462.7L163.7 464.5L164.0 473.9L164.3 487.1L164.7 480.2L165.0 478.0L165.3 494.8L165.7 506.6L166.0 500.5L166.3 497.6L166.7 482.4L167.0 484.8L167.3 497.6L167.7 503.5L168.0 503.5L168.3 497.6L168.7 492.2L169.0 494.8L169.3 506.6L169.7 509.9L170.0 506.6L170.3 494.8L170.7 506.6L171.0 494.8L171.3 497.6L171.7 503.5L172.0 500.5L172.3 497.6L172.7 487.1L173.0 482.4L173.3 471.9L173.7 478.0L174.0 471.9L174.3 470.0L174.7 470.0L175.0 468.1L175.3 473.9L175.7 487.1L176.0 489.6L176.3 482.4L176.7 482.4L177.0 480.2L177.3 480.2L177.7 478.0L178.0 475.9L178.3 468.1L178.7 464.5L179.0 468.1L179.3 478.0L179.7 480.2L180.0 480.2L180.3 484.8L180.7 492.2L181.0 500.5L181.3 500.5L181.7 506.6L182.0 503.5L182.3 509.9L182.7 503.5L183.0 500.5L183.3 500.5L183.7 497.6L184.0 500.5L184.3 497.6L184.7 494.8L185.0 494.8L185.3 506.6L185.7 500.5L186.0 494.8L186.3 487.1L186.7 492.2L187.0 487.1L187.3 480.2L187.7 464.5L188.0 462.7L188.3 464.5L188.7 466.3L189.0 466.3L189.3 468.1L189.7 473.9L190.0 482.4L190.3 500.5L190.7 492.2L191.0 494.8L191.3 489.6L191.7 497.6L192.0 500.5L192.3 492.2L192.7 480.2L193.0 475.9L193.3 482.4L193.7 478.0L194.0 482.4L194.3 487.1L194.7 484.8L195.0 489.6L195.3 497.6L195.7 503.5L196.0 506.6L196.3 517.0L196.7 513.4L197.0 503.5L197.3 506.6L197.7 503.5L198.0 520.8L198.3 509.9L198.7 497.6L199.0 484.8L199.3 482.4L199.7 475.9L200.0 475.9L200.3 471.9L200.7 464.5L201.0 461.0L201.3 457.7L201.7 461.0L202.0 459.4L202.3 464.5L202.7 453.1L203.0 459.4L203.3 456.2L203.7 453.1L204.0 461.0L204.3 468.1L204.7 471.9L205.0 470.0L205.3 475.9L205.7 466.3L206.0 471.9L206.3 478.0L206.7 473.9L207.0 466.3L207.3 468.1L207.7 473.9L208.0 473.9L208.3 480.2L208.7 480.2L209.0 484.8L209.3 492.2L209.7 497.6L210.0 494.8L210.3 492.2L210.7 500.5L211.0 506.6L211.3 506.6L211.7 517.0L212.0 517.0L212.3 517.0L212.7 509.9L213.0 506.6L213.3 494.8L213.7 500.5L214.0 506.6L214.3 509.9L214.7 513.4L215.0 517.0L215.3 533.6L215.7 520.8L216.0 513.4L216.3 500.5L216.7 497.6L217.0 489.6L217.3 480.2L217.7 471.9L218.0 468.1L218.3 473.9L218.7 484.8L219.0 484.8L219.3 480.2L219.7 470.0L220.0 471.9L220.3 475.9L220.7 475.9L221.0 475.9L221.3 482.4L221.7 482.4L222.0 480.2L222.3 489.6L222.7 492.2L223.0 487.1L223.3 494.8L223.7 497.6L224.0 492.2L224.3 489.6L224.7 492.2L225.0 492.2L225.3 478.0L225.7 478.0L226.0 470.0L226.3 470.0L226.7 459.4L227.0 459.4L227.3 462.7L227.7 462.7L228.0 470.0L228.3 471.9L228.7 478.0L229.0 473.9L229.3 484.8L229.7 489.6L230.0 489.6L230.3 487.1L230.7 487.1L231.0 492.2L231.3 484.8L231.7 494.8L232.0 489.6L232.3 482.4L232.7 478.0L233.0 480.2L233.3 480.2L233.7 484.8L234.0 489.6L234.3 482.4L234.7 489.6L235.0 497.6L235.3 494.8L235.7 492.2L236.0 500.5L236.3 487.1L236.7 478.0L237.0 478.0L237.3 475.9L237.7 480.2L238.0 487.1L238.3 484.8L238.7 470.0L239.0 470.0L239.3 470.0L239.7 471.9L240.0 470.0L240.3 462.7L240.7 459.4L241.0 462.7L241.3 470.0L241.7 471.9L242.0 468.1L242.3 457.7L242.7 457.7L243.0 459.4L243.3 454.6L243.7 457.7L244.0 457.7L244.3 462.7L244.7 471.9L245.0 480.2L245.3 480.2L245.7 478.0L246.0 480.2L246.3 471.9L246.7 471.9L247.0 475.9L247.3 484.8L247.7 489.6L248.0 489.6L248.3 482.4L248.7 480.2L249.0 489.6L249.3 492.2L249.7 484.8L250.0 471.9L250.3 471.9L250.7 475.9L251.0 482.4L251.3 487.1L251.7 492.2L252.0 489.6L252.3 489.6L252.7 494.8L253.0 500.5L253.3 506.6L253.7 513.4L254.0 509.9L254.3 500.5L254.7 503.5L255.0 506.6L255.3 497.6L255.7 497.6L256.0 492.2L256.3 487.1L256.7 489.6L257.0 487.1L257.3 482.4L257.7 478.0L258.0 482.4L258.3 475.9L258.7 470.0L259.0 466.3L259.3 468.1L259.7 466.3L260.0 473.9L260.3 471.9L260.7 478.0L261.0 484.8L261.3 484.8L261.6 492.2L262.0 492.2L262.3 489.6L262.6 478.0L263.0 473.9L263.3 471.9L263.6 466.3L264.0 462.7L264.3 456.2L264.6 450.2L265.0 454.6L265.3 446.0L265.6 447.3L266.0 444.6L266.3 444.6L266.6 451.6L267.0 464.5L267.3 470.0L267.6 470.0L268.0 484.8L268.3 497.6L268.6 497.6L269.0 500.5L269.3 503.5L269.6 494.8L270.0 494.8L270.3 500.5L270.6 494.8L271.0 484.8L271.3 482.4L271.6 482.4L272.0 484.8L272.3 478.0L272.6 475.9L273.0 466.3L273.3 468.1L273.6 471.9L274.0 480.2L274.3 482.4L274.6 478.0L275.0 478.0L275.3 489.6L275.6 494.8L276.0 509.9L276.3 497.6L276.6 494.8L277.0 489.6L277.3 489.6L277.6 497.6L278.0 492.2L278.3 500.5L278.6 484.8L279.0 497.6L279.3 500.5L279.6 506.6L280.0 494.8L280.3 500.5L280.6 497.6L281.0 494.8L281.3 500.5L281.6 489.6L282.0 480.2L282.3 480.2L282.6 492.2L283.0 482.4L283.3 480.2L283.6 484.8L284.0 480.2L284.3 484.8L284.6 489.6L285.0 487.1L285.3 475.9L285.6 484.8L286.0 489.6L286.3 482.4L286.6 489.6L287.0 489.6L287.3 492.2L287.6 494.8L288.0 500.5L288.3 497.6L288.6 506.6L289.0 513.4L289.3 513.4L289.6 524.8L290.0 529.1L290.3 513.4L290.6 513.4L291.0 509.9L291.3 489.6L291.6 487.1L292.0 489.6L292.3 484.8L292.6 484.8L293.0 494.8L293.3 487.1L293.6 478.0L294.0 489.6L294.3 480.2L294.6 473.9L295.0 464.5L295.3 459.4L295.6 450.2L296.0 456.2L296.3 461.0L296.6 454.6L297.0 461.0L297.3 464.5L297.6 475.9L298.0 478.0L298.3 489.6L298.6 494.8L299.0 492.2L299.3 492.2L299.6 487.1L300.0 478.0L300.3 470.0L300.6 464.5L301.0 459.4L301.3 450.2L301.6 451.6L302.0 454.6L302.3 453.1L302.6 454.6L303.0 461.0L303.3 470.0L303.6 475.9L304.0 480.2L304.3 480.2L304.6 484.8L305.0 492.2L305.3 503.5L305.6 500.5L306.0 500.5L306.3 497.6L306.6 503.5L307.0 509.9L307.3 506.6L307.6 500.5L308.0 497.6L308.3 497.6L308.6 497.6L309.0 503.5L309.3 500.5L309.6 497.6L310.0 500.5L310.3 503.5L310.6 517.0L311.0 500.5L311.3 494.8L311.6 478.0L312.0 482.4L312.3 473.9L312.6 466.3L313.0 456.2L313.3 451.6L313.6 451.6L314.0 451.6L314.3 464.5L314.6 464.5L315.0 466.3L315.3 470.0L315.6 480.2L316.0 473.9L316.3 475.9L316.6 482.4L317.0 480.2L317.3 473.9L317.6 473.9L318.0 464.5L318.3 466.3L318.6 471.9L319.0 482.4L319.3 470.0L319.6 459.4L320.0 459.4L320.3 466.3L320.6 478.0L321.0 468.1L321.3 471.9L321.6 470.0L322.0 471.9L322.3 478.0L322.6 482.4L323.0 478.0L323.3 480.2L323.6 494.8L324.0 484.8L324.3 482.4L324.6 484.8L325.0 484.8L325.3 482.4L325.6 480.2L326.0 478.0L326.3 470.0L326.6 475.9L327.0 480.2L327.3 475.9L327.6 484.8L328.0 484.8L328.3 482.4L328.6 484.8L329.0 494.8L329.3 487.1L329.6 487.1L330.0 503.5L330.3 492.2L330.6 489.6L331.0 506.6L331.3 506.6L331.6 503.5L332.0 494.8L332.3 497.6L332.6 492.2L333.0 489.6L333.3 497.6L333.6 492.2L334.0 487.1L334.3 487.1L334.6 497.6L335.0 489.6L335.3 487.1L335.6 494.8L336.0 484.8L336.3 480.2L336.6 478.0L337.0 471.9L337.3 473.9L337.6 478.0L338.0 473.9L338.3 466.3L338.6 470.0L339.0 470.0L339.3 466.3L339.6 473.9L340.0 471.9L340.3 468.1L340.6 473.9L341.0 480.2L341.3 482.4L341.6 489.6L342.0 506.6L342.3 506.6L342.6 506.6L343.0 503.5L343.3 489.6L343.6 492.2L344.0 497.6L344.3 480.2L344.6 462.7L345.0 457.7L345.3 453.1L345.6 454.6L346.0 466.3L346.3 464.5L346.6 464.5L347.0 480.2L347.3 500.5L347.6 500.5L348.0 513.4L348.3 506.6L348.6 494.8L349.0 487.1L349.3 473.9L349.6 471.9L350.0 470.0L350.3 471.9L350.6 475.9L351.0 475.9L351.3 471.9L351.6 468.1L352.0 473.9L352.3 470.0L352.6 461.0L353.0 466.3L353.3 466.3L353.6 468.1L354.0 470.0L354.3 487.1L354.6 487.1L355.0 482.4L355.3 500.5L355.6 497.6L356.0 492.2L356.3 500.5L356.6 517.0L357.0 517.0L357.3 524.8L357.6 529.1L358.0 529.1L358.3 529.1L358.6 520.8L359.0 517.0L359.3 500.5L359.6 494.8L360.0 492.2L360.3 489.6L360.6 480.2L361.0 468.1L361.3 473.9L361.6 478.0L362.0 489.6L362.3 492.2L362.6 492.2L363.0 497.6L363.3 506.6L363.6 517.0L364.0 509.9L364.3 492.2L364.6 494.8L365.0 484.8L365.3 482.4L365.6 484.8L366.0 475.9L366.3 480.2L366.6 475.9L367.0 482.4L367.3 470.0L367.6 475.9L368.0 475.9L368.3 470.0L368.6 475.9L369.0 470.0L369.3 470.0L369.6 468.1L370.0 470.0L370.3 468.1L370.6 471.9L371.0 466.3L371.3 464.5L371.6 470.0L372.0 473.9L372.3 470.0L372.6 470.0L373.0 466.3L373.3 468.1L373.6 475.9L374.0 475.9L374.3 471.9L374.6 468.1L375.0 473.9L375.3 478.0L375.6 478.0L376.0 470.0L376.3 470.0L376.6 470.0L377.0 464.5L377.3 468.1L377.6 470.0L378.0 464.5L378.3 462.7L378.6 461.0L379.0 466.3L379.3 470.0L379.6 484.8L380.0 484.8L380.3 482.4L380.6 487.1L381.0 500.5L381.3 513.4L381.6 503.5L382.0 497.6L382.3 482.4L382.6 480.2L383.0 480.2L383.3 478.0L383.6 468.1L384.0 468.1L384.3 475.9L384.6 482.4L385.0 482.4L385.3 482.4L385.6 492.2L386.0 497.6L386.3 509.9L386.6 509.9L387.0 500.5L387.3 500.5L387.6 517.0L388.0 533.6L388.3 506.6L388.6 500.5L389.0 492.2L389.3 484.8L389.6 478.0L390.0 470.0L390.3 462.7L390.6 453.1L391.0 456.2L391.3 457.7L391.6 462.7L392.0 462.7L392.3 468.1L392.6 471.9L393.0 480.2L393.3 492.2L393.6 500.5L394.0 506.6L394.3 506.6L394.6 524.8L395.0 524.8L395.3 529.1L395.6 524.8L396.0 503.5L396.3 503.5L396.6 497.6L397.0 497.6L397.3 480.2L397.6 480.2L398.0 480.2L398.3 484.8L398.6 503.5L399.0 509.9L399.3 509.9L399.6 517.0L400.0 538.5L400.3 529.1L400.6 520.8L401.0 520.8L401.3 520.8L401.6 509.9L402.0 517.0L402.3 520.8L402.6 529.1L403.0 533.6L403.3 517.0L403.6 489.6L404.0 475.9L404.3 478.0L404.6 480.2L405.0 473.9L405.3 459.4L405.6 464.5L406.0 466.3L406.3 478.0L406.6 478.0L407.0 470.0L407.3 464.5L407.6 459.4L408.0 468.1L408.3 459.4L408.6 456.2L409.0 454.6L409.3 462.7L409.6 462.7L410.0 461.0L410.3 457.7L410.6 457.7L411.0 462.7L411.3 466.3L411.6 468.1L412.0 459.4L412.3 464.5L412.6 464.5L413.0 470.0L413.3 464.5L413.6 457.7L414.0 453.1L414.3 443.3L414.6 447.3L415.0 443.3L415.3 432.4L415.6 427.0L416.0 426.0L416.3 425.0L416.6 425.0L417.0 427.0L417.3 422.0L417.6 421.1L418.0 425.0L418.3 423.0L418.6 414.7L419.0 410.5L419.3 413.8L419.6 418.3L420.0 412.1L420.3 402.7L420.6 399.8L421.0 396.4L421.3 399.1L421.6 402.0L422.0 399.8L422.3 395.1L422.6 389.4L423.0 393.1L423.3 391.8L423.6 393.1L424.0 390.6L424.3 389.4L424.6 389.4L425.0 383.5L425.3 385.2L425.6 377.6L426.0 375.1L426.3 373.2L426.6 369.4L427.0 365.0L427.3 362.0L427.6 362.0L428.0 361.6L428.3 361.6L428.6 363.7L429.0 353.1L429.3 349.2L429.6 348.5L430.0 343.3L430.3 336.4L430.6 329.0L431.0 328.5L431.3 324.7L431.6 325.5L432.0 323.3L432.3 319.4L432.6 318.2L433.0 318.9L433.3 323.3L433.6 321.4L434.0 320.5L434.3 321.0L434.6 325.0L435.0 326.5L435.3 327.0L435.6 328.5L436.0 324.5L436.3 323.8L436.6 323.3L437.0 324.5L437.3 320.0L437.6 316.1L438.0 314.6L438.3 313.9L438.6 318.5L439.0 319.1L439.3 318.9L439.6 318.5L440.0 320.3L440.3 322.6L440.6 323.1L441.0 322.4L441.3 320.5L441.6 320.5L442.0 319.1L442.3 318.7L442.6 320.3L443.0 322.4L443.3 321.4L443.6 322.4L444.0 323.1L444.3 323.5L444.6 326.7L445.0 327.5L445.3 326.0L445.6 323.8L446.0 326.0L446.3 329.0L446.6 327.2L447.0 329.3L447.3 329.8L447.6 331.1L448.0 329.5L448.3 328.8L448.6 326.5L449.0 321.4L449.3 321.2L449.6 315.0L450.0 311.9L450.3 309.7L450.6 309.9L451.0 307.9L451.3 307.2L451.6 307.0L452.0 305.5L452.3 304.4L452.6 300.7L453.0 299.3L453.3 298.3L453.6 301.4L454.0 301.7L454.3 302.1L454.6 303.0L455.0 308.1L455.3 313.9L455.6 319.8L456.0 325.7L456.3 327.5L456.6 334.4L457.0 341.7L457.3 349.9L457.6 353.8L458.0 360.0L458.3 361.6L458.6 362.4L459.0 365.4L459.3 365.4L459.6 367.6L460.0 364.5L460.3 365.0L460.6 365.0L461.0 362.4L461.3 359.6L461.6 357.6L462.0 356.5L462.3 356.5L462.6 353.8L463.0 355.3L463.3 353.8L463.6 356.8L464.0 358.8L464.3 362.8L464.6 362.8L465.0 359.2L465.3 358.4L465.6 356.5L466.0 357.2L466.3 357.2L466.6 358.4L467.0 355.7L467.3 357.2L467.6 355.7L468.0 357.6L468.3 355.3L468.6 356.1L469.0 352.7L469.3 350.3L469.6 348.9L470.0 346.2L470.3 343.3L470.6 343.6L471.0 343.9L471.3 338.1L471.6 334.1L472.0 326.7L472.3 323.5L472.6 322.1L473.0 319.1L473.3 317.1L473.6 316.9L474.0 316.5L474.3 316.9L474.6 321.4L475.0 321.0L475.3 313.5L475.6 313.7L476.0 311.3L476.3 306.8L476.6 306.1L477.0 303.7L477.3 301.4L477.6 300.8L478.0 305.7L478.3 307.2L478.6 309.3L479.0 312.1L479.3 315.4L479.6 317.8L480.0 322.6L480.3 327.7L480.6 330.8L480.9 335.8L481.3 336.6L481.6 341.7L481.9 344.6L482.3 351.3L482.6 351.7L482.9 351.3L483.3 353.5L483.6 352.4L483.9 355.7L484.3 351.0L484.6 348.2L484.9 343.3L485.3 342.3L485.6 343.6L485.9 342.3L486.3 340.5L486.6 340.5L486.9 342.6L487.3 343.0L487.6 344.9L487.9 346.5L488.3 346.2L488.6 346.2L488.9 348.9L489.3 351.7L489.6 350.3L489.9 349.2L490.3 347.8L490.6 347.8L490.9 349.6L491.3 350.6L491.6 349.2L491.9 346.2L492.3 346.8L492.6 348.2L492.9 352.7L493.3 348.2L493.6 345.2L493.9 346.5L494.3 345.2L494.6 343.6L494.9 342.3L495.3 339.0L495.6 334.9L495.9 336.4L496.3 335.2L496.6 331.4L496.9 332.2L497.3 332.2L497.6 332.7L497.9 334.7L498.3 333.8L498.6 331.4L498.9 328.5L499.3 329.8L499.6 328.5L499.9 324.3L500.3 323.3L500.6 321.4L500.9 320.3L501.3 319.6L501.6 320.5L501.9 316.5L502.3 314.6L502.6 314.6L502.9 312.5L503.3 308.5L503.6 307.2L503.9 307.0L504.3 305.3L504.6 306.6L504.9 303.1L505.3 303.7L505.6 300.2L505.9 300.8L506.3 302.4L506.6 301.5L506.9 301.5L507.3 298.3L507.6 298.0L507.9 292.2L508.3 290.7L508.6 289.1L508.9 283.7L509.3 280.6L509.6 277.1L509.9 275.9L510.3 274.3L510.6 272.4L510.9 271.7L511.3 269.7L511.6 267.8L511.9 268.7L512.3 268.9L512.6 266.4L512.9 266.4L513.3 269.6L513.6 270.4L513.9 272.0L514.3 273.8L514.6 272.7L514.9 272.4L515.3 272.4L515.6 274.1L515.9 272.8L516.3 273.7L516.6 272.4L516.9 273.0L517.3 271.3L517.6 272.8L517.9 276.1L518.3 273.7L518.6 276.3L518.9 275.1L519.3 278.2L519.6 278.3L519.9 279.1L520.3 278.1L520.6 275.9L520.9 275.4L521.3 271.2L521.6 271.4L521.9 267.6L522.3 269.4L522.6 270.5L522.9 272.0L523.3 273.8L523.6 273.9L523.9 275.5L524.3 276.5L524.6 280.0L524.9 277.3L525.3 279.7L525.6 278.1L525.9 275.5L526.3 279.1L526.6 280.3L526.9 279.2L527.3 279.9L527.6 281.0L527.9 280.5L528.3 282.0L528.6 285.3L528.9 284.5L529.3 286.5L529.6 287.3L529.9 287.5L530.3 290.7L530.6 291.0L530.9 291.4L531.3 290.7L531.6 292.7L531.9 293.4L532.3 294.4L532.6 296.2L532.9 292.4L533.3 292.1L533.6 291.9L533.9 293.9L534.3 293.6L534.6 293.4L534.9 295.8L535.3 293.4L535.6 295.7L535.9 293.3L536.3 293.6L536.6 293.1L536.9 292.2L537.3 294.1L537.6 293.0L537.9 295.3L538.3 297.1L538.6 300.0L538.9 299.8L539.3 300.2L539.6 301.2L539.9 297.8L540.3 299.6L540.6 297.6L540.9 296.3L541.3 297.0L541.6 298.5L541.9 297.5L542.3 295.3L542.6 296.5L542.9 295.7L543.3 296.5L543.6 295.7L543.9 295.2L544.3 293.6L544.6 296.2L544.9 298.0L545.3 296.5L545.6 293.6L545.9 291.0L546.3 291.3L546.6 290.4L546.9 290.2L547.3 290.5L547.6 290.7L547.9 291.6L548.3 294.1L548.6 298.8L548.9 299.8L549.3 300.2L549.6 300.7L549.9 300.8L550.3 301.0L550.6 301.7L550.9 301.9L551.3 299.6L551.6 299.8L551.9 301.9L552.3 303.3L552.6 302.2L552.9 303.0L553.3 304.9L553.6 305.9L553.9 306.4L554.3 305.5L554.6 303.9L554.9 303.3L555.3 302.8L555.6 303.3L555.9 300.5L556.3 300.3L556.6 300.0L556.9 301.9L557.3 303.7L557.6 306.8L557.9 305.9L558.3 306.4L558.6 309.9L558.9 310.7L559.3 314.4L559.6 313.7L559.9 315.4L560.3 314.6L560.6 318.5L560.9 320.0L561.3 319.8L561.6 320.7L561.9 317.1L562.3 316.3L562.6 314.6L562.9 316.7L563.3 318.0L563.6 319.1L563.9 319.6L564.3 317.6L564.6 317.6L564.9 318.5L565.3 321.2L565.6 318.0L565.9 314.8L566.3 310.7L566.6 310.5L566.9 311.1L567.3 314.2L567.6 316.5L567.9 314.4L568.3 312.9L568.6 313.5L568.9 316.3L569.3 314.8L569.6 315.8L569.9 316.3L570.3 318.0L570.6 318.5L570.9 319.8L571.3 317.4L571.6 315.0L571.9 317.1L572.3 312.9L572.6 311.1L572.9 307.6L573.3 306.8L573.6 305.3L573.9 307.9L574.3 308.9L574.6 307.0L574.9 311.3L575.3 309.9L575.6 310.1L575.9 311.7L576.3 312.3L576.6 312.3L576.9 309.7L577.3 308.5L577.6 308.7L577.9 308.7L578.3 310.5L578.6 309.9L578.9 310.7L579.3 311.9L579.6 312.9L579.9 314.6L580.3 313.7L580.6 315.6L580.9 313.9L581.3 314.4L581.6 313.7L581.9 312.3L582.3 313.5L582.6 312.7L582.9 312.5L583.3 307.8L583.6 307.4L583.9 305.9L584.3 304.9L584.6 303.0L584.9 303.3L585.3 302.8L585.6 301.5L585.9 304.9L586.3 305.5L586.6 307.8L586.9 311.5L587.3 316.3L587.6 317.8L587.9 322.6L588.3 325.7L588.6 328.5L588.9 330.3L589.3 325.7L589.6 327.0L589.9 324.5L590.3 324.7L590.6 322.4L590.9 320.0L591.3 316.7L591.6 316.9L591.9 318.7L592.3 312.3L592.6 310.9L592.9 309.1L593.3 306.6L593.6 307.0L593.9 312.5L594.3 311.5L594.6 311.9L594.9 318.2L595.3 321.9L595.6 324.7L595.9 331.1L596.3 333.3L596.6 330.6L596.9 331.6L597.3 335.8L597.6 333.8L597.9 333.0L598.3 333.3L598.6 331.6L598.9 331.1L599.3 329.5L599.6 329.3L599.9 325.2L600.3 326.7L600.6 326.0L600.9 323.5L601.3 325.7L601.6 329.5L601.9 331.1L602.3 334.4L602.6 336.6L602.9 335.2L603.3 336.4L603.6 339.3L603.9 335.8L604.3 333.0L604.6 330.3L604.9 326.2L605.3 329.3L605.6 330.8L605.9 329.0L606.3 327.7L606.6 327.0L606.9 324.7L607.3 325.7L607.6 327.0L607.9 326.2L608.3 324.0L608.6 320.7L608.9 321.2L609.3 320.3L609.6 318.5L609.9 318.9L610.3 318.0L610.6 315.8L610.9 317.6L611.3 323.3L611.6 319.8L611.9 321.4L612.3 324.5L612.6 327.5L612.9 330.8L613.3 336.4L613.6 337.2L613.9 336.1L614.3 345.5L614.6 346.5L614.9 350.3L615.3 347.2L615.6 347.5L615.9 344.2L616.3 343.9L616.6 344.6L616.9 338.4L617.3 340.8L617.6 340.2L617.9 345.5L618.3 349.6L618.6 353.1L618.9 351.0L619.3 353.8L619.6 358.8L619.9 363.7L620.3 364.5L620.6 358.4L620.9 354.6L621.3 353.8L621.6 358.4L621.9 354.2L622.3 354.6L622.6 353.8L622.9 353.5L623.3 357.2L623.6 358.8L623.9 356.5L624.3 358.4L624.6 363.3L624.9 365.0L625.3 362.8L625.6 364.5L625.9 362.0L626.3 363.7L626.6 365.4L626.9 363.3L627.3 362.8L627.6 362.4L627.9 362.8L628.3 360.8L628.6 362.8L628.9 360.8L629.3 361.2L629.6 360.8L629.9 362.0L630.3 360.8L630.6 362.8L630.9 362.8L631.3 361.6L631.6 362.4L631.9 360.4L632.3 362.0L632.6 362.8L632.9 365.4L633.3 365.8L633.6 369.8L633.9 372.2L634.3 369.4L634.6 373.6L634.9 373.6L635.3 371.2L635.6 370.8L635.9 368.5L636.3 363.7L636.6 363.3L636.9 366.7L637.3 364.1L637.6 367.6L637.9 370.8L638.3 368.5L638.6 371.7L638.9 378.2L639.3 374.1L639.6 378.7L639.9 379.7L640.3 376.6L640.6 377.6L640.9 378.7L641.3 375.6L641.6 373.2L641.9 373.2L642.3 368.9L642.6 372.2L642.9 367.6L643.3 366.3L643.6 372.7L643.9 368.9L644.3 369.4L644.6 376.1L644.9 378.2L645.3 377.1L645.6 383.0L645.9 384.7L646.3 380.8L646.6 387.6L646.9 388.2L647.3 388.2L647.6 385.2L647.9 386.4L648.3 380.8L648.6 375.1L648.9 375.6L649.3 371.7L649.6 370.3L649.9 369.4L650.3 367.6L650.6 364.1L650.9 371.7L651.3 375.6L651.6 373.2L651.9 375.1L652.3 381.3L652.6 383.5L652.9 390.0L653.3 391.8L653.6 393.1L653.9 392.5L654.3 391.2L654.6 395.7L654.9 395.1L655.3 383.5L655.6 383.5L655.9 383.5L656.3 379.7L656.6 376.6L656.9 375.6L657.3 374.6L657.6 370.8L657.9 375.1L658.3 375.6L658.6 377.1L658.9 375.6L659.3 379.7L659.6 382.4L659.9 380.8L660.3 380.3L660.6 383.0L660.9 380.3L661.3 380.8L661.6 380.8L661.9 381.9L662.3 384.7L662.6 382.4L662.9 388.2L663.3 390.0L663.6 391.2L663.9 379.7L664.3 381.9L664.6 384.1L664.9 386.4L665.3 390.0L665.6 384.1L665.9 385.2L666.3 384.1L666.6 398.4L666.9 391.8L667.3 389.4L667.6 385.2L667.9 382.4L668.3 380.8L668.6 381.3L668.9 381.9L669.3 380.8L669.6 390.0L669.9 390.6L670.3 393.8L670.6 395.7L670.9 397.8L671.3 390.0L671.6 394.4L671.9 391.8L672.3 390.6L672.6 385.2L672.9 380.3L673.3 381.3L673.6 384.7L673.9 392.5L674.3 384.7L674.6 388.2L674.9 383.0L675.3 382.4L675.6 377.6L675.9 375.1L676.3 367.6L676.6 359.6L676.9 357.6L677.3 356.8L677.6 358.8L677.9 357.6L678.3 364.1L678.6 363.7L678.9 368.5L679.3 370.3L679.6 375.6L679.9 375.6L680.3 378.7L680.6 381.9L680.9 383.0L681.3 388.8L681.6 387.6L681.9 388.2L682.3 388.8L682.6 384.7L682.9 384.1L683.3 390.6L683.6 388.8L683.9 385.2L684.3 389.4L684.6 395.7L684.9 399.1L685.3 408.1L685.6 404.2L685.9 402.7L686.3 402.0L686.6 398.4L686.9 391.2L687.3 390.6L687.6 390.0L687.9 384.1L688.3 384.7L688.6 381.9L688.9 383.0L689.3 387.0L689.6 392.5L689.9 391.2L690.3 381.3L690.6 388.2L690.9 388.2L691.3 388.8L691.6 388.2L691.9 390.0L692.3 392.5L692.6 397.1L692.9 413.0L693.3 409.7L693.6 413.0L693.9 417.4L694.3 425.0L694.6 426.0L694.9 427.0L695.3 430.2L695.6 427.0L695.9 423.0L696.3 422.0L696.6 423.0L696.9 410.5L697.3 413.0L697.6 404.2L697.9 399.1L698.3 397.1L698.6 402.7L698.9 404.2L699.3 403.5L699.6 414.7L699.9 416.5L700.2 428.1L700.6 427.0L700.9 431.3L701.2 430.2L701.6 426.0L701.9 422.0L702.2 415.6L702.6 410.5L702.9 402.7L703.2 395.7L703.6 387.0L703.9 371.2L704.2 370.3L704.6 368.5L704.9 362.4L705.2 364.1L705.6 366.7L705.9 373.6L706.2 375.1L706.6 394.4L706.9 393.8L707.2 397.1L707.6 412.1L707.9 405.7L708.2 400.5L708.6 399.1L708.9 397.1L709.2 390.6L709.6 387.0L709.9 388.2L710.2 388.8L710.6 395.1L710.9 405.0L711.2 402.7L711.6 414.7L711.9 422.0L712.2 433.6L712.6 431.3L712.9 424.0L713.2 420.1L713.6 418.3L713.9 420.1L714.2 416.5L714.6 414.7L714.9 413.8L715.2 420.1L715.6 427.0L715.9 428.1L716.2 429.1L716.6 433.6L716.9 435.9L717.2 433.6L717.6 432.4L717.9 428.1L718.2 422.0L718.6 413.0L718.9 407.3L719.2 410.5L719.6 408.1L719.9 412.1L720.2 413.8L720.6 411.3L720.9 413.8L721.2 424.0L721.6 421.1L721.9 417.4L722.2 416.5L722.6 409.7L722.9 405.0L723.2 405.0L723.6 405.7L723.9 402.0L724.2 410.5L724.6 405.7L724.9 407.3L725.2 413.8L725.6 411.3L725.9 414.7L726.2 415.6L726.6 421.1L726.9 422.0L727.2 419.2L727.6 419.2L727.9 414.7L728.2 424.0L728.6 423.0L728.9 419.2L729.2 421.1L729.6 420.1L729.9 429.1L730.2 430.2L730.6 421.1L730.9 421.1L731.2 419.2L731.6 419.2L731.9 415.6L732.2 412.1L732.6 412.1L732.9 408.1L733.2 409.7L733.6 398.4L733.9 398.4L734.2 395.7L734.6 388.8L734.9 380.8L735.2 378.2L735.6 374.1L735.9 377.6L736.2 386.4L736.6 385.8L736.9 388.8L737.2 398.4L737.6 407.3L737.9 402.0L738.2 414.7L738.6 419.2L738.9 417.4L739.2 418.3L739.6 419.2L739.9 415.6L740.2 412.1L740.6 425.0L740.9 418.3L741.2 410.5L741.6 405.0L741.9 406.5L742.2 404.2L742.6 400.5L742.9 406.5L743.2 402.0L743.6 407.3L743.9 411.3L744.2 418.3L744.6 419.2L744.9 420.1L745.2 419.2L745.6 415.6L745.9 418.3L746.2 414.7L746.6 419.2L746.9 418.3L747.2 420.1L747.6 420.1L747.9 428.1L748.2 434.7L748.6 438.3L748.9 424.0L749.2 417.4L749.6 418.3L749.9 408.9L750.2 408.1L750.6 402.7L750.9 402.0L751.2 397.8L751.6 410.5L751.9 413.0L752.2 409.7L752.6 417.4L752.9 417.4L753.2 413.0L753.6 409.7L753.9 411.3L754.2 406.5L754.6 408.1L754.9 410.5L755.2 410.5L755.6 417.4L755.9 426.0L756.2 430.2L756.6 426.0L756.9 435.9L757.2 423.0L757.6 422.0L757.9 427.0L758.2 424.0L758.6 430.2L758.9 428.1L759.2 440.7L759.6 440.7L759.9 459.4L760.2 462.7L760.6 456.2L760.9 457.7L761.2 446.0L761.6 442.0L761.9 439.5L762.2 433.6L762.6 430.2L762.9 433.6L763.2 438.3L763.6 432.4L763.9 431.3L764.2 434.7L764.6 425.0L764.9 426.0L765.2 429.1L765.6 427.0L765.9 422.0L766.2 426.0L766.6 432.4L766.9 426.0L767.2 425.0L767.6 424.0L767.9 424.0L768.2 425.0L768.6 427.0L768.9 426.0L769.2 430.2L769.6 438.3L769.9 443.3L770.2 447.3L770.6 444.6L770.9 443.3L771.2 443.3L771.6 447.3L771.9 439.5L772.2 437.1L772.6 437.1L772.9 433.6L773.2 429.1L773.6 425.0L773.9 422.0L774.2 418.3L774.6 416.5L774.9 419.2L775.2 424.0L775.6 428.1L775.9 434.7L776.2 435.9L776.6 434.7L776.9 428.1L777.2 428.1L777.6 427.0L777.9 426.0L778.2 424.0L778.6 417.4L778.9 417.4L779.2 408.9L779.6 411.3L779.9 408.9L780.2 408.9L780.6 407.3L780.9 408.9L781.2 410.5L781.6 410.5L781.9 421.1L782.2 418.3L782.6 426.0L782.9 419.2L783.2 420.1L783.6 415.6L783.9 414.7L784.2 409.7L784.6 410.5L784.9 413.0L785.2 409.7L785.6 414.7L785.9 414.7L786.2 417.4L786.6 425.0L786.9 437.1L787.2 438.3L787.6 442.0L787.9 444.6L788.2 444.6L788.6 448.7L788.9 451.6L789.2 451.6L789.6 447.3L789.9 453.1L790.2 459.4L790.6 462.7L790.9 464.5L791.2 464.5L791.6 464.5L791.9 457.7L792.2 466.3L792.6 457.7L792.9 456.2L793.2 457.7L793.6 456.2L793.9 447.3L794.2 446.0L794.6 451.6L794.9 434.7L795.2 431.3L795.6 429.1L795.9 432.4L796.2 434.7L796.6 443.3L796.9 442.0L797.2 438.3L797.6 447.3L797.9 451.6L798.2 459.4L798.6 459.4L798.9 451.6L799.2 450.2L799.6 451.6L799.9 443.3L800.2 447.3L800.6 447.3L800.9 440.7L801.2 439.5L801.6 439.5L801.9 442.0L802.2 444.6L802.6 451.6L802.9 444.6L803.2 443.3L803.6 444.6L803.9 443.3L804.2 450.2L804.6 442.0L804.9 432.4L805.2 434.7L805.6 434.7L805.9 435.9L806.2 440.7L806.6 440.7L806.9 438.3L807.2 447.3L807.6 457.7L807.9 462.7L808.2 468.1L808.6 473.9L808.9 464.5L809.2 459.4L809.6 461.0L809.9 448.7L810.2 440.7L810.6 440.7L810.9 444.6L811.2 446.0L811.6 454.6L811.9 451.6L812.2 450.2L812.6 454.6L812.9 456.2L813.2 451.6L813.6 446.0L813.9 440.7L814.2 434.7L814.6 437.1L814.9 442.0L815.2 443.3L815.6 446.0L815.9 447.3L816.2 451.6L816.6 450.2L816.9 444.6L817.2 439.5L817.6 433.6L817.9 434.7L818.2 440.7L818.6 434.7L818.9 434.7L819.2 442.0L819.6 451.6L819.9 464.5L820.2 475.9L820.6 475.9L820.9 471.9L821.2 480.2L821.6 480.2L821.9 464.5L822.2 462.7L822.6 456.2L822.9 451.6L823.2 454.6L823.6 459.4L823.9 461.0L824.2 461.0L824.6 459.4L824.9 457.7L825.2 453.1L825.6 451.6L825.9 440.7L826.2 439.5L826.6 434.7L826.9 432.4L827.2 437.1L827.6 440.7L827.9 444.6L828.2 444.6L828.6 450.2L828.9 446.0L829.2 443.3L829.6 442.0L829.9 430.2L830.2 424.0L830.6 421.1L830.9 420.1L831.2 419.2L831.6 418.3L831.9 423.0L832.2 423.0L832.6 433.6L832.9 435.9L833.2 438.3L833.6 443.3L833.9 443.3L834.2 443.3L834.6 443.3L834.9 446.0L835.2 450.2L835.6 453.1L835.9 456.2L836.2 453.1L836.6 456.2L836.9 464.5L837.2 468.1L837.6 471.9L837.9 471.9L838.2 478.0L838.6 478.0L838.9 482.4L839.2 482.4L839.6 471.9L839.9 473.9L840.2 473.9L840.6 470.0L840.9 466.3L841.2 468.1L841.6 464.5L841.9 470.0L842.2 473.9L842.6 461.0L842.9 453.1L843.2 446.0L843.6 446.0L843.9 439.5L844.2 440.7L844.6 440.7L844.9 438.3L845.2 442.0L845.6 442.0L845.9 447.3L846.2 443.3L846.6 450.2L846.9 448.7L847.2 442.0L847.6 444.6L847.9 446.0L848.2 447.3L848.6 453.1L848.9 454.6L849.2 457.7L849.6 453.1L849.9 454.6L850.2 457.7L850.6 453.1L850.9 457.7L851.2 450.2L851.6 450.2L851.9 451.6L852.2 454.6L852.6 459.4L852.9 454.6L853.2 459.4L853.6 464.5L853.9 475.9L854.2 478.0L854.6 471.9L854.9 470.0L855.2 470.0L855.6 475.9L855.9 470.0L856.2 464.5L856.6 464.5L856.9 459.4L857.2 461.0L857.6 461.0L857.9 456.2L858.2 447.3L858.6 456.2L858.9 451.6L859.2 450.2L859.6 451.6L859.9 450.2L860.2 454.6L860.6 454.6L860.9 462.7L861.2 462.7L861.6 466.3L861.9 464.5L862.2 475.9L862.6 480.2L862.9 482.4L863.2 482.4L863.6 478.0L863.9 464.5L864.2 470.0L864.6 466.3L864.9 461.0L865.2 451.6L865.6 451.6L865.9 459.4L866.2 464.5L866.6 478.0L866.9 473.9L867.2 468.1L867.6 464.5L867.9 470.0L868.2 466.3L868.6 456.2L868.9 457.7L869.2 446.0L869.6 446.0L869.9 453.1L870.2 453.1L870.6 450.2L870.9 456.2L871.2 462.7L871.6 459.4L871.9 461.0L872.2 464.5L872.6 466.3L872.9 466.3L873.2 466.3L873.6 461.0L873.9 466.3L874.2 457.7L874.6 470.0L874.9 473.9L875.2 464.5L875.6 461.0L875.9 466.3L876.2 466.3L876.6 466.3L876.9 470.0L877.2 466.3L877.6 453.1L877.9 456.2L878.2 462.7L878.6 459.4L878.9 461.0L879.2 454.6L879.6 451.6L879.9 447.3L880.2 457.7L880.6 462.7L880.9 461.0L881.2 464.5L881.6 468.1L881.9 470.0L882.2 487.1L882.6 492.2L882.9 487.1L883.2 484.8L883.6 482.4L883.9 492.2L884.2 489.6L884.6 492.2L884.9 482.4L885.2 487.1L885.6 492.2L885.9 492.2L886.2 500.5L886.6 497.6L886.9 487.1L887.2 482.4L887.6 487.1L887.9 484.8L888.2 487.1L888.6 478.0L888.9 480.2L889.2 478.0L889.6 482.4L889.9 487.1L890.2 482.4L890.6 489.6L890.9 480.2L891.2 484.8L891.6 480.2L891.9 470.0L892.2 471.9L892.6 457.7L892.9 457.7L893.2 451.6L893.6 453.1L893.9 454.6L894.2 450.2L894.6 459.4L894.9 462.7L895.2 480.2L895.6 484.8L895.9 482.4L896.2 473.9L896.6 471.9L896.9 470.0L897.2 464.5L897.6 461.0L897.9 457.7L898.2 453.1L898.6 454.6L898.9 464.5L899.2 470.0L899.6 482.4L899.9 478.0L900.2 480.2L900.6 484.8L900.9 482.4L901.2 489.6L901.6 489.6L901.9 487.1L902.2 471.9L902.6 482.4L902.9 473.9L903.2 470.0L903.6 473.9L903.9 470.0L904.2 468.1L904.6 462.7L904.9 475.9L905.2 461.0L905.6 456.2L905.9 453.1L906.2 456.2L906.6 453.1L906.9 448.7L907.2 451.6L907.6 443.3L907.9 448.7L908.2 461.0L908.6 466.3L908.9 470.0L909.2 468.1L909.6 478.0L909.9 475.9L910.2 471.9L910.6 480.2L910.9 475.9L911.2 470.0L911.6 456.2L911.9 457.7L912.2 454.6L912.6 453.1L912.9 464.5L913.2 456.2L913.6 459.4L913.9 459.4L914.2 457.7L914.6 456.2L914.9 454.6L915.2 457.7L915.6 461.0L915.9 464.5L916.2 457.7L916.6 459.4L916.9 466.3L917.2 473.9L917.6 475.9L917.9 475.9L918.2 471.9L918.6 473.9L918.9 478.0L919.2 484.8L919.5 492.2L919.9 475.9L920.2 475.9L920.5 473.9L920.9 466.3L921.2 459.4L921.5 456.2L921.9 446.0L922.2 443.3L922.5 448.7L922.9 450.2L923.2 453.1L923.5 456.2L923.9 464.5L924.2 471.9L924.5 482.4L924.9 489.6L925.2 503.5L925.5 500.5L925.9 500.5L926.2 503.5L926.5 503.5L926.9 494.8L927.2 497.6L927.5 492.2L927.9 478.0L928.2 471.9L928.5 470.0L928.9 475.9L929.2 471.9L929.5 471.9L929.9 473.9L930.2 471.9L930.5 471.9L930.9 461.0L931.2 468.1L931.5 466.3L931.9 464.5L932.2 468.1L932.5 461.0L932.9 464.5L933.2 471.9L933.5 492.2L933.9 484.8L934.2 482.4L934.5 494.8L934.9 497.6L935.2 509.9L935.5 506.6L935.9 503.5L936.2 497.6L936.5 489.6L936.9 489.6L937.2 484.8L937.5 471.9L937.9 461.0L938.2 464.5L938.5 466.3L938.9 470.0L939.2 478.0L939.5 482.4L939.9 480.2L940.2 489.6L940.5 509.9L940.9 506.6L941.2 513.4L941.5 497.6L941.9 500.5L942.2 497.6L942.5 497.6L942.9 489.6L943.2 475.9L943.5 468.1L943.9 466.3L944.2 478.0L944.5 473.9L944.9 466.3L945.2 466.3L945.5 471.9L945.9 478.0L946.2 492.2L946.5 480.2L946.9 473.9L947.2 468.1L947.5 470.0L947.9 473.9L948.2 475.9L948.5 473.9L948.9 473.9L949.2 480.2L949.5 482.4L949.9 482.4L950.2 482.4L950.5 471.9L950.9 468.1L951.2 466.3L951.5 462.7L951.9 466.3L952.2 468.1L952.5 473.9L952.9 478.0L953.2 484.8L953.5 484.8L953.9 489.6L954.2 487.1L954.5 484.8L954.9 480.2L955.2 487.1L955.5 480.2L955.9 482.4L956.2 487.1L956.5 492.2L956.9 497.6L957.2 497.6L957.5 506.6L957.9 500.5L958.2 506.6L958.5 513.4L958.9 509.9L959.2 492.2L959.5 489.6L959.9 489.6L960.2 487.1L960.5 484.8L960.9 487.1L961.2 480.2L961.5 487.1L961.9 503.5L962.2 497.6L962.5 497.6L962.9 503.5L963.2 509.9L963.5 503.5L963.9 500.5L964.2 492.2L964.5 489.6L964.9 492.2L965.2 494.8L965.5 492.2L965.9 484.8L966.2 482.4L966.5 484.8L966.9 484.8L967.2 480.2L967.5 475.9L967.9 471.9L968.2 470.0L968.5 471.9L968.9 478.0L969.2 482.4L969.5 473.9L969.9 470.0L970.2 473.9L970.5 473.9L970.9 475.9L971.2 473.9L971.5 473.9L971.9 470.0L972.2 480.2L972.5 489.6L972.9 489.6L973.2 492.2L973.5 487.1L973.9 492.2L974.2 487.1L974.5 489.6L974.9 473.9L975.2 468.1L975.5 464.5L975.9 456.2L976.2 450.2L976.5 447.3L976.9 443.3L977.2 442.0L977.5 440.7L977.9 439.5L978.2 438.3L978.5 444.6L978.9 447.3L979.2 439.5L979.5 446.0L979.9 448.7L980.2 459.4L980.5 468.1L980.9 480.2L981.2 478.0L981.5 487.1L981.9 506.6L982.2 497.6L982.5 500.5L982.9 506.6L983.2 503.5L983.5 503.5L983.9 506.6L984.2 500.5L984.5 497.6L984.9 506.6L985.2 497.6L985.5 503.5L985.9 497.6L986.2 492.2L986.5 492.2L986.9 500.5L987.2 500.5L987.5 492.2L987.9 489.6L988.2 482.4L988.5 484.8L988.9 482.4L989.2 489.6L989.5 489.6L989.9 494.8L990.2 506.6L990.5 517.0L990.9 517.0L991.2 509.9L991.5 517.0L991.9 509.9L992.2 503.5L992.5 500.5L992.9 482.4L993.2 470.0L993.5 466.3L993.9 473.9L994.2 470.0L994.5 471.9L994.9 466.3L995.2 468.1L995.5 478.0L995.9 487.1L996.2 492.2L996.5 482.4L996.9 475.9L997.2 466.3L997.5 470.0L997.9 462.7L998.2 459.4L998.5 461.0L998.9 461.0L999.2 466.3L999.5 471.9L999.9 478.0L1000.2 480.2L1000.5 494.8L1000.9 503.5L1001.2 503.5L1001.5 500.5L1001.9 492.2L1002.2 471.9L1002.5 468.1L1002.9 473.9L1003.2 468.1L1003.5 462.7L1003.9 461.0L1004.2 448.7L1004.5 442.0L1004.9 451.6L1005.2 453.1L1005.5 450.2L1005.9 447.3L1006.2 448.7L1006.5 450.2L1006.9 461.0L1007.2 473.9L1007.5 478.0L1007.9 475.9L1008.2 470.0L1008.5 478.0L1008.9 478.0L1009.2 475.9L1009.5 473.9L1009.9 473.9L1010.2 471.9L1010.5 473.9L1010.9 473.9L1011.2 464.5L1011.5 470.0L1011.9 466.3L1012.2 475.9L1012.5 480.2L1012.9 478.0L1013.2 482.4L1013.5 487.1L1013.9 503.5L1014.2 500.5L1014.5 509.9L1014.9 506.6L1015.2 503.5L1015.5 520.8L1015.9 520.8L1016.2 520.8L1016.5 520.8L1016.9 529.1L1017.2 529.1L1017.5 529.1L1017.9 524.8L1018.2 517.0L1018.5 509.9L1018.9 509.9L1019.2 500.5L1019.5 494.8L1019.9 494.8L1020.2 482.4L1020.5 489.6L1020.9 484.8L1021.2 489.6L1021.5 489.6L1021.9 487.1L1022.2 489.6L1022.5 480.2L1022.9 482.4L1023.2 478.0L1023.5 473.9L1023.9 471.9L1024.2 470.0L1024.5 473.9L1024.9 478.0L1025.2 489.6L1025.5 497.6L1025.9 500.5L1026.2 509.9L1026.5 509.9L1026.9 509.9L1027.2 517.0L1027.5 513.4L1027.9 517.0L1028.2 524.8" fill="none" stroke="#0000ff" stroke-width="2.0" stroke-linejoin="round" stroke-linecap="butt"/><path d="M514.3 262V241.5" stroke="#000" stroke-width="1.6" fill="none"/><circle cx="505.5" cy="306.4" r="4.8" fill="#ff0000" stroke="#000" stroke-width="0.7"/><path d="M514.5 251L520.6 260.3L514.5 269.6L508.4 260.3Z" fill="#ff0000" stroke="#000" stroke-width="0.7"/><path d="M152.5 731V724.6M152.5 81V87.4M256.5 731V724.6M256.5 81V87.4M361.5 731V724.6M361.5 81V87.4M465.5 731V724.6M465.5 81V87.4M569.5 731V724.6M569.5 81V87.4M674.5 731V724.6M674.5 81V87.4M778.5 731V724.6M778.5 81V87.4M883.5 731V724.6M883.5 81V87.4M987.5 731V724.6M987.5 81V87.4M1091.5 731V724.6M1091.5 81V87.4M152 243.5H158.4M1091 243.5H1085.3999999999999M152 194.5H155.4M1091 194.5H1088.3999999999999M152 166.5H155.4M1091 166.5H1088.3999999999999M152 145.5H155.4M1091 145.5H1088.3999999999999M152 130.5H155.4M1091 130.5H1088.3999999999999M152 117.5H155.4M1091 117.5H1088.3999999999999M152 106.5H155.4M1091 106.5H1088.3999999999999M152 96.5H155.4M1091 96.5H1088.3999999999999M152 88.5H155.4M1091 88.5H1088.3999999999999M152 406.5H158.4M1091 406.5H1085.3999999999999M152 357.5H155.4M1091 357.5H1088.3999999999999M152 328.5H155.4M1091 328.5H1088.3999999999999M152 308.5H155.4M1091 308.5H1088.3999999999999M152 292.5H155.4M1091 292.5H1088.3999999999999M152 279.5H155.4M1091 279.5H1088.3999999999999M152 268.5H155.4M1091 268.5H1088.3999999999999M152 259.5H155.4M1091 259.5H1088.3999999999999M152 251.5H155.4M1091 251.5H1088.3999999999999M152 568.5H158.4M1091 568.5H1085.3999999999999M152 519.5H155.4M1091 519.5H1088.3999999999999M152 490.5H155.4M1091 490.5H1088.3999999999999M152 470.5H155.4M1091 470.5H1088.3999999999999M152 454.5H155.4M1091 454.5H1088.3999999999999M152 442.5H155.4M1091 442.5H1088.3999999999999M152 431.5H155.4M1091 431.5H1088.3999999999999M152 421.5H155.4M1091 421.5H1088.3999999999999M152 413.5H155.4M1091 413.5H1088.3999999999999M152 730.5H158.4M1091 730.5H1085.3999999999999M152 681.5H155.4M1091 681.5H1088.3999999999999M152 653.5H155.4M1091 653.5H1088.3999999999999M152 633.5H155.4M1091 633.5H1088.3999999999999M152 617.5H155.4M1091 617.5H1088.3999999999999M152 604.5H155.4M1091 604.5H1088.3999999999999M152 593.5H155.4M1091 593.5H1088.3999999999999M152 584.5H155.4M1091 584.5H1088.3999999999999M152 575.5H155.4M1091 575.5H1088.3999999999999" stroke="#000" stroke-width="0.85" fill="none"/><rect x="152.5" y="81.5" width="939" height="650" fill="none" stroke="#000" stroke-width="1.4"/><text x="152.5" y="748.8" text-anchor="middle" style="font-family:'Liberation Sans',sans-serif;font-size:17px">0</text><text x="256.8" y="748.8" text-anchor="middle" style="font-family:'Liberation Sans',sans-serif;font-size:17px">10</text><text x="361.2" y="748.8" text-anchor="middle" style="font-family:'Liberation Sans',sans-serif;font-size:17px">20</text><text x="465.5" y="748.8" text-anchor="middle" style="font-family:'Liberation Sans',sans-serif;font-size:17px">30</text><text x="569.8" y="748.8" text-anchor="middle" style="font-family:'Liberation Sans',sans-serif;font-size:17px">40</text><text x="674.2" y="748.8" text-anchor="middle" style="font-family:'Liberation Sans',sans-serif;font-size:17px">50</text><text x="778.5" y="748.8" text-anchor="middle" style="font-family:'Liberation Sans',sans-serif;font-size:17px">60</text><text x="882.8" y="748.8" text-anchor="middle" style="font-family:'Liberation Sans',sans-serif;font-size:17px">70</text><text x="987.2" y="748.8" text-anchor="middle" style="font-family:'Liberation Sans',sans-serif;font-size:17px">80</text><text x="1091.5" y="748.8" text-anchor="middle" style="font-family:'Liberation Sans',sans-serif;font-size:17px">90</text><text x="117.4" y="89.1" textLength="19.7" lengthAdjust="spacingAndGlyphs" style="font-family:'Liberation Sans',sans-serif;font-size:17.2px">10</text><text x="138.0" y="80.1" style="font-family:'Liberation Sans',sans-serif;font-size:12.7px">0</text><text x="113.4" y="251.6" textLength="19.7" lengthAdjust="spacingAndGlyphs" style="font-family:'Liberation Sans',sans-serif;font-size:17.2px">10</text><text x="133.6" y="242.6" textLength="11.4" lengthAdjust="spacingAndGlyphs" style="font-family:'Liberation Sans',sans-serif;font-size:12.7px">-1</text><text x="113.4" y="414.1" textLength="19.7" lengthAdjust="spacingAndGlyphs" style="font-family:'Liberation Sans',sans-serif;font-size:17.2px">10</text><text x="133.6" y="405.1" textLength="11.4" lengthAdjust="spacingAndGlyphs" style="font-family:'Liberation Sans',sans-serif;font-size:12.7px">-2</text><text x="113.4" y="576.6" textLength="19.7" lengthAdjust="spacingAndGlyphs" style="font-family:'Liberation Sans',sans-serif;font-size:17.2px">10</text><text x="133.6" y="567.6" textLength="11.4" lengthAdjust="spacingAndGlyphs" style="font-family:'Liberation Sans',sans-serif;font-size:12.7px">-3</text><text x="113.4" y="739.1" textLength="19.7" lengthAdjust="spacingAndGlyphs" style="font-family:'Liberation Sans',sans-serif;font-size:17.2px">10</text><text x="133.6" y="730.1" textLength="11.4" lengthAdjust="spacingAndGlyphs" style="font-family:'Liberation Sans',sans-serif;font-size:12.7px">-4</text><text x="450.6" y="73.8" textLength="342" lengthAdjust="spacingAndGlyphs" style="font-family:'Liberation Sans',sans-serif;font-size:20px">20050709 Wind/EPACT 19-28 MeV</text><text x="427" y="774.7" textLength="392" lengthAdjust="spacingAndGlyphs" style="font-family:'Liberation Sans',sans-serif;font-size:22.4px">Hours after 09-07-2005 00:00:17.500</text><text transform="translate(94.9,560.7) rotate(-90)" x="0" y="0" textLength="137.0" lengthAdjust="spacingAndGlyphs" style="font-family:'Liberation Sans',sans-serif;font-size:22.4px">Intensity (cm</text><text transform="translate(87.3,423.6) rotate(-90)" x="0" y="0" textLength="18.0" lengthAdjust="spacingAndGlyphs" style="font-family:'Liberation Sans',sans-serif;font-size:15.0px">−2</text><text transform="translate(94.9,402.3) rotate(-90)" x="0" y="0" textLength="11.6" lengthAdjust="spacingAndGlyphs" style="font-family:'Liberation Sans',sans-serif;font-size:22.4px">s</text><text transform="translate(87.3,391.3) rotate(-90)" x="0" y="0" textLength="18.4" lengthAdjust="spacingAndGlyphs" style="font-family:'Liberation Sans',sans-serif;font-size:15.0px">−1</text><text transform="translate(94.9,369.5) rotate(-90)" x="0" y="0" textLength="20.4" lengthAdjust="spacingAndGlyphs" style="font-family:'Liberation Sans',sans-serif;font-size:22.4px">sr</text><text transform="translate(87.3,350.4) rotate(-90)" x="0" y="0" textLength="19.6" lengthAdjust="spacingAndGlyphs" style="font-family:'Liberation Sans',sans-serif;font-size:15.0px">−1</text><text transform="translate(94.9,326.6) rotate(-90)" x="0" y="0" textLength="44.6" lengthAdjust="spacingAndGlyphs" style="font-family:'Liberation Sans',sans-serif;font-size:22.4px">MeV</text><text transform="translate(87.3,282.5) rotate(-90)" x="0" y="0" textLength="18.4" lengthAdjust="spacingAndGlyphs" style="font-family:'Liberation Sans',sans-serif;font-size:15.0px">−1</text><text transform="translate(94.9,259.6) rotate(-90)" x="0" y="0" textLength="8.0" lengthAdjust="spacingAndGlyphs" style="font-family:'Liberation Sans',sans-serif;font-size:22.4px">)</text></svg></body></html>
